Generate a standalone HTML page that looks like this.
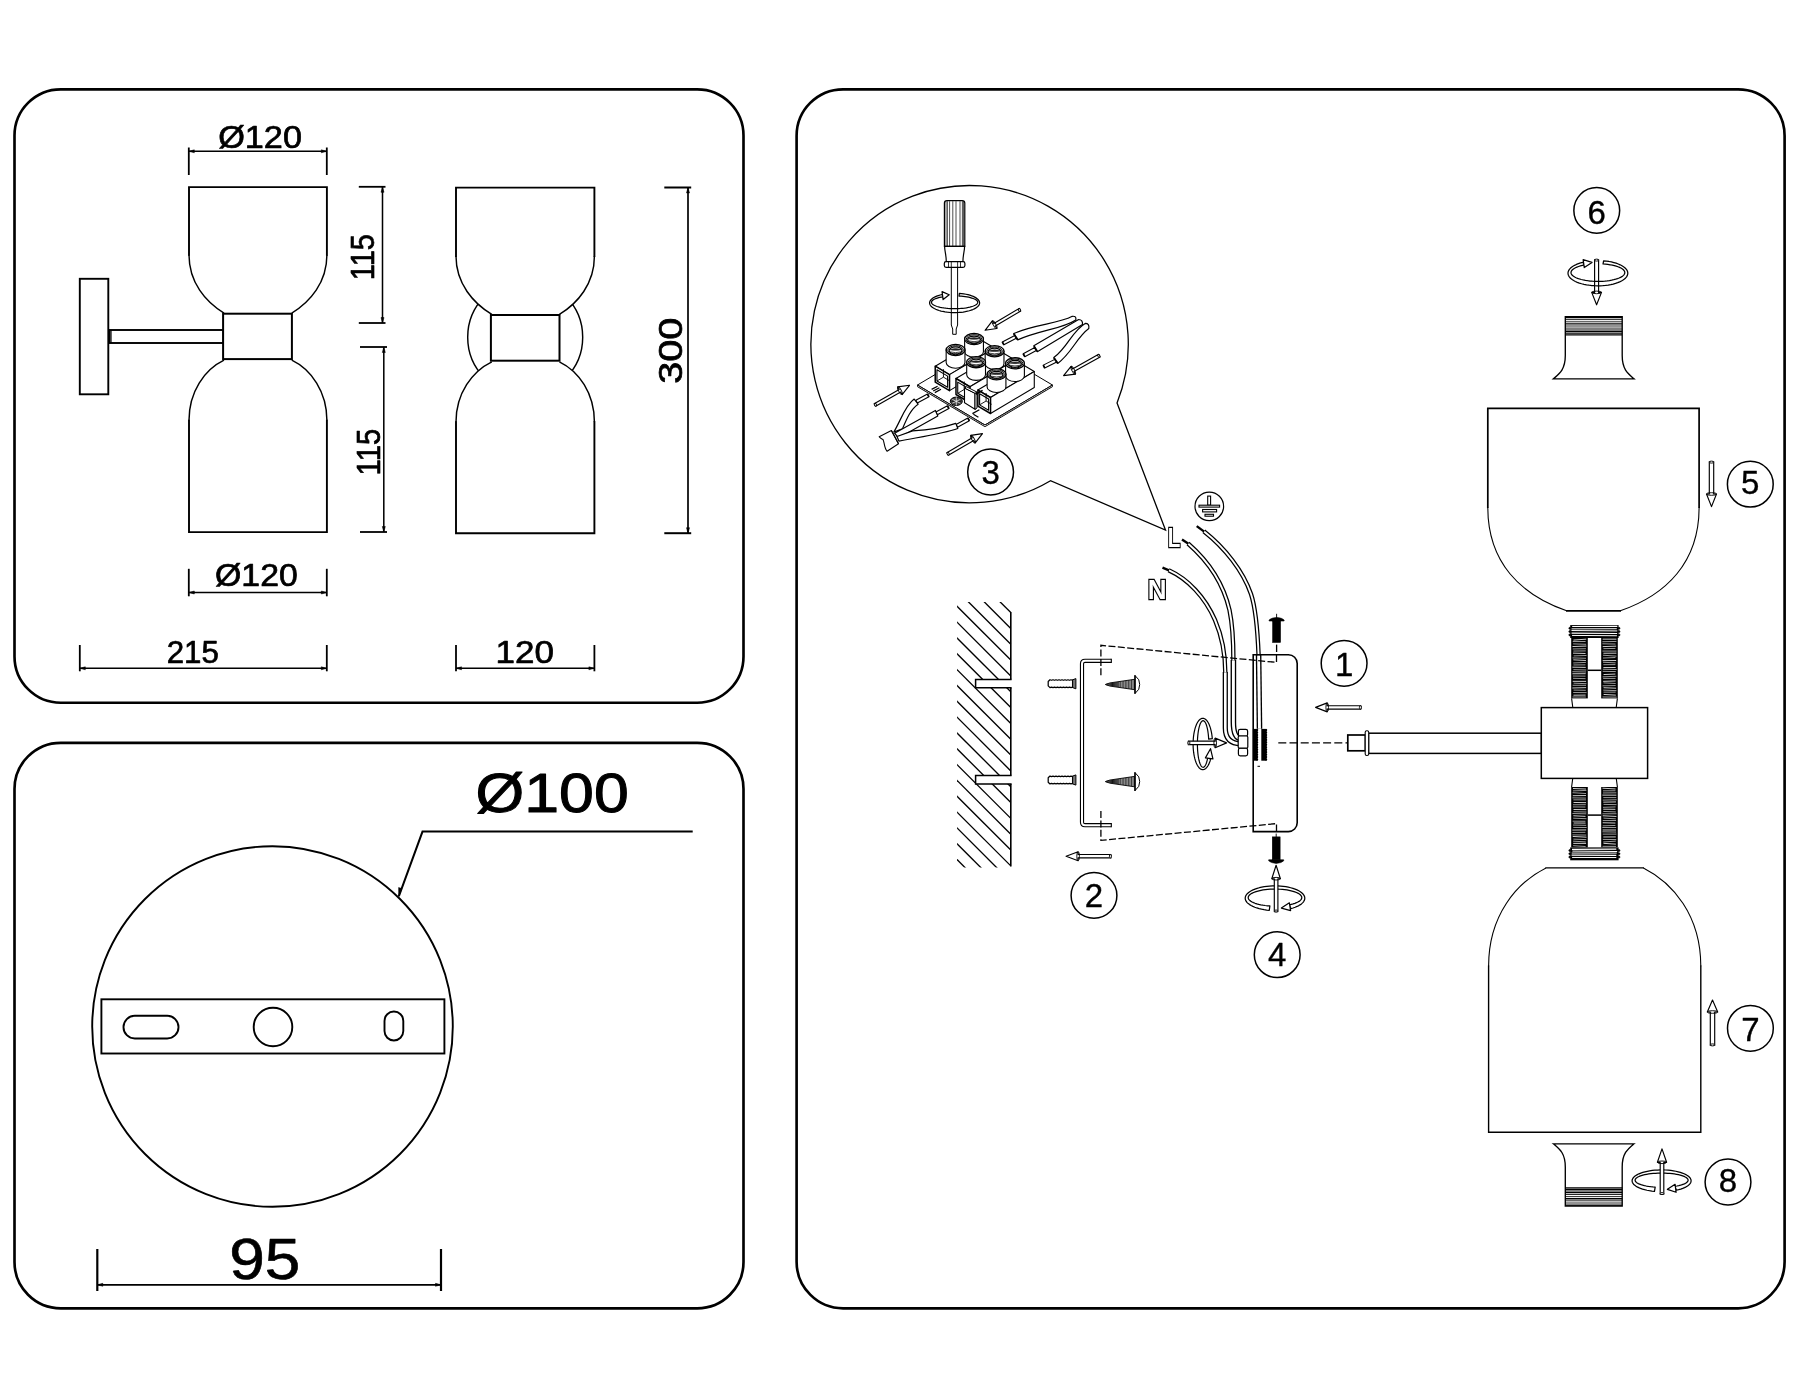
<!DOCTYPE html>
<html><head><meta charset="utf-8"><title>Wall lamp assembly diagram</title>
<style>
html,body{margin:0;padding:0;background:#fff;}
svg{display:block;will-change:transform;}
text{font-family:"Liberation Sans",sans-serif;fill:#000;}
</style></head><body>
<svg width="1800" height="1400" viewBox="0 0 1800 1400">
<rect x="0" y="0" width="1800" height="1400" fill="#fff"/>
<rect x="14.5" y="89.3" width="729" height="613.4" rx="46.3" fill="none" stroke="#000" stroke-width="2.65" />
<rect x="14.5" y="742.8" width="729" height="565.5" rx="46.3" fill="none" stroke="#000" stroke-width="2.65" />
<rect x="796.6" y="89.3" width="988" height="1219" rx="46.5" fill="none" stroke="#000" stroke-width="2.65" />
<rect x="79.8" y="278.8" width="28.5" height="115.5" rx="0" fill="#fff" stroke="#000" stroke-width="1.9" />
<rect x="109.5" y="330" width="114" height="13" rx="0" fill="#fff" stroke="#000" stroke-width="1.9" />
<line x1="111" y1="330" x2="111" y2="343" stroke="#000" stroke-width="1.2" />
<path d="M189,187.1 H326.9 V255.05 C326.9,282.45 310.1,302 291.8,313.1 H224 C205.7,302 189,282.45 189,255.05 Z" fill="#fff" stroke="none" stroke-width="0" />
<path d="M189,532.1 H326.9 V420.3 C326.9,391.8 311.3,369.6 291.8,360.2 H224 C204.5,369.6 189,391.8 189,420.3 Z" fill="#fff" stroke="none" stroke-width="0" />
<path d="M189,255.05 C189,282.45 205.7,302 224,313.1 M326.9,255.05 C326.9,282.45 310.1,302 291.8,313.1 M189,420.3 C189,391.8 204.5,369.6 224,360.2 M326.9,420.3 C326.9,391.8 311.3,369.6 291.8,360.2" fill="none" stroke="#000" stroke-width="1.45" />
<path d="M189,255.65 V187.1 H326.9 V255.65 M189,419.7 V532.1 H326.9 V419.7" fill="none" stroke="#000" stroke-width="1.9" stroke-linejoin="miter"/>
<rect x="223.1" y="313.7" width="68.8" height="45.4" rx="0" fill="#fff" stroke="#000" stroke-width="2.0" />
<circle cx="525.2" cy="337.2" r="57.5" fill="none" stroke="#000" stroke-width="1.45"/>
<path d="M456,187.6 H594.4 V256.35 C594.4,283.75 577.7,303.3 559.4,314.4 H491.8 C473.5,303.3 456,283.75 456,256.35 Z" fill="#fff" stroke="none" stroke-width="0" />
<path d="M456,533.2 H594.4 V421.9 C594.4,393.4 578.9,371.2 559.4,361.8 H491.8 C472.3,371.2 456,393.4 456,421.9 Z" fill="#fff" stroke="none" stroke-width="0" />
<path d="M456,256.35 C456,283.75 473.5,303.3 491.8,314.4 M594.4,256.35 C594.4,283.75 577.7,303.3 559.4,314.4 M456,421.9 C456,393.4 472.3,371.2 491.8,361.8 M594.4,421.9 C594.4,393.4 578.9,371.2 559.4,361.8" fill="none" stroke="#000" stroke-width="1.45" />
<path d="M456,256.95 V187.6 H594.4 V256.95 M456,421.3 V533.2 H594.4 V421.3" fill="none" stroke="#000" stroke-width="1.9" stroke-linejoin="miter"/>
<rect x="490.9" y="315" width="68.6" height="45.7" rx="0" fill="#fff" stroke="#000" stroke-width="2.0" />
<line x1="188.8" y1="147.5" x2="188.8" y2="175" stroke="#000" stroke-width="1.8" />
<line x1="326.8" y1="147.5" x2="326.8" y2="175" stroke="#000" stroke-width="1.8" />
<line x1="188.8" y1="151.3" x2="326.8" y2="151.3" stroke="#000" stroke-width="1.4400000000000002" />
<path d="M188.8,151.3 L194.3,149.8 L194.3,152.8 Z" fill="#000" stroke="#000" stroke-width="0.5" />
<path d="M326.8,151.3 L321.3,149.8 L321.3,152.8 Z" fill="#000" stroke="#000" stroke-width="0.5" />
<text x="218.15" y="147.5" font-size="32.2" textLength="83.84" lengthAdjust="spacingAndGlyphs" stroke="#000" stroke-width="0.7" stroke-linejoin="round">Ø120</text>
<line x1="188.8" y1="568.8" x2="188.8" y2="596.3" stroke="#000" stroke-width="1.8" />
<line x1="326.8" y1="568.8" x2="326.8" y2="596.3" stroke="#000" stroke-width="1.8" />
<line x1="188.8" y1="592.5" x2="326.8" y2="592.5" stroke="#000" stroke-width="1.4400000000000002" />
<path d="M188.8,592.5 L194.3,591 L194.3,594 Z" fill="#000" stroke="#000" stroke-width="0.5" />
<path d="M326.8,592.5 L321.3,591 L321.3,594 Z" fill="#000" stroke="#000" stroke-width="0.5" />
<text x="215.07" y="585.5" font-size="32.2" textLength="82.71" lengthAdjust="spacingAndGlyphs" stroke="#000" stroke-width="0.7" stroke-linejoin="round">Ø120</text>
<line x1="79.8" y1="645" x2="79.8" y2="671.3" stroke="#000" stroke-width="1.8" />
<line x1="326.8" y1="645" x2="326.8" y2="671.3" stroke="#000" stroke-width="1.8" />
<line x1="79.8" y1="668.3" x2="326.8" y2="668.3" stroke="#000" stroke-width="1.4400000000000002" />
<path d="M79.8,668.3 L85.3,666.8 L85.3,669.8 Z" fill="#000" stroke="#000" stroke-width="0.5" />
<path d="M326.8,668.3 L321.3,666.8 L321.3,669.8 Z" fill="#000" stroke="#000" stroke-width="0.5" />
<text x="166.68" y="662.6" font-size="32.2" textLength="52.14" lengthAdjust="spacingAndGlyphs" stroke="#000" stroke-width="0.7" stroke-linejoin="round">215</text>
<line x1="456" y1="645" x2="456" y2="671.3" stroke="#000" stroke-width="1.8" />
<line x1="594.4" y1="645" x2="594.4" y2="671.3" stroke="#000" stroke-width="1.8" />
<line x1="456" y1="668.3" x2="594.4" y2="668.3" stroke="#000" stroke-width="1.4400000000000002" />
<path d="M456,668.3 L461.5,666.8 L461.5,669.8 Z" fill="#000" stroke="#000" stroke-width="0.5" />
<path d="M594.4,668.3 L588.9,666.8 L588.9,669.8 Z" fill="#000" stroke="#000" stroke-width="0.5" />
<text x="495.64" y="662.6" font-size="32.2" textLength="58.43" lengthAdjust="spacingAndGlyphs" stroke="#000" stroke-width="0.7" stroke-linejoin="round">120</text>
<line x1="358.8" y1="186.8" x2="385.5" y2="186.8" stroke="#000" stroke-width="1.8" />
<line x1="358.8" y1="323" x2="385.5" y2="323" stroke="#000" stroke-width="1.8" />
<line x1="382.5" y1="186.8" x2="382.5" y2="323" stroke="#000" stroke-width="1.53" />
<path d="M382.5,186.8 L381,192.3 L384,192.3 Z" fill="#000" stroke="#000" stroke-width="0.5" />
<path d="M382.5,323 L381,317.5 L384,317.5 Z" fill="#000" stroke="#000" stroke-width="0.5" />
<text x="373.7" y="280.14" font-size="33" textLength="46.08" lengthAdjust="spacingAndGlyphs" transform="rotate(-90 373.7 280.14)" stroke="#000" stroke-width="0.7" stroke-linejoin="round">115</text>
<line x1="360" y1="347" x2="387" y2="347" stroke="#000" stroke-width="1.8" />
<line x1="360" y1="532" x2="387" y2="532" stroke="#000" stroke-width="1.8" />
<line x1="383.8" y1="347" x2="383.8" y2="532" stroke="#000" stroke-width="1.53" />
<path d="M383.8,347 L382.3,352.5 L385.3,352.5 Z" fill="#000" stroke="#000" stroke-width="0.5" />
<path d="M383.8,532 L382.3,526.5 L385.3,526.5 Z" fill="#000" stroke="#000" stroke-width="0.5" />
<text x="379.7" y="475.37" font-size="33" textLength="46.73" lengthAdjust="spacingAndGlyphs" transform="rotate(-90 379.7 475.37)" stroke="#000" stroke-width="0.7" stroke-linejoin="round">115</text>
<line x1="664.3" y1="187.5" x2="691.2" y2="187.5" stroke="#000" stroke-width="2.0" />
<line x1="664.3" y1="533.2" x2="691.2" y2="533.2" stroke="#000" stroke-width="2.0" />
<line x1="688" y1="187.5" x2="688" y2="533.2" stroke="#000" stroke-width="1.7" />
<path d="M688,187.5 L686.5,193 L689.5,193 Z" fill="#000" stroke="#000" stroke-width="0.5" />
<path d="M688,533.2 L686.5,527.7 L689.5,527.7 Z" fill="#000" stroke="#000" stroke-width="0.5" />
<text x="682.3" y="383.65" font-size="33" textLength="66.02" lengthAdjust="spacingAndGlyphs" transform="rotate(-90 682.3 383.65)" stroke="#000" stroke-width="0.7" stroke-linejoin="round">300</text>
<circle cx="272.5" cy="1026.5" r="180.3" fill="none" stroke="#000" stroke-width="1.9"/>
<rect x="101.4" y="999.3" width="343" height="54.2" rx="0" fill="#fff" stroke="#000" stroke-width="1.9" />
<rect x="123.5" y="1015.8" width="55" height="22.7" rx="11.3" fill="none" stroke="#000" stroke-width="1.9" />
<circle cx="273" cy="1027" r="19.3" fill="none" stroke="#000" stroke-width="1.9"/>
<rect x="384.5" y="1011.5" width="18.8" height="29" rx="9.4" fill="none" stroke="#000" stroke-width="1.9" />
<path d="M692.7,831.6 L422.5,831.6 L398.9,896.2" fill="none" stroke="#000" stroke-width="2.0" />
<path d="M398.7,896.8 L398.6,887.5 L401.8,888.6 Z" fill="#000" stroke="#000" stroke-width="0.5" />
<text x="475.58" y="812.3" font-size="56.4" textLength="153.16" lengthAdjust="spacingAndGlyphs" stroke="#000" stroke-width="1.0" stroke-linejoin="round">Ø100</text>
<line x1="97.3" y1="1249" x2="97.3" y2="1291" stroke="#000" stroke-width="2.2" />
<line x1="441" y1="1249" x2="441" y2="1291" stroke="#000" stroke-width="2.2" />
<line x1="97.3" y1="1284.8" x2="441" y2="1284.8" stroke="#000" stroke-width="1.7600000000000002" />
<path d="M97.3,1284.8 L102.8,1283.3 L102.8,1286.3 Z" fill="#000" stroke="#000" stroke-width="0.5" />
<path d="M441,1284.8 L435.5,1283.3 L435.5,1286.3 Z" fill="#000" stroke="#000" stroke-width="0.5" />
<text x="229.15" y="1279.2" font-size="57.8" textLength="71.16" lengthAdjust="spacingAndGlyphs" stroke="#000" stroke-width="0.6" stroke-linejoin="round">95</text>
<path d="M1117.04,402.91 A158.7,158.7 0 1 0 1050.51,480.73 L1165.5,530.1 Z" fill="#fff" stroke="#000" stroke-width="1.3" stroke-linejoin="miter"/>
<path d="M951.3,267 V325 L952.7,329 V334.3 H956.2 V329 L957.6,325 V267 Z" fill="#fff" stroke="#000" stroke-width="1.0" />
<path d="M944.4,203 Q944.4,200.6 947,200.6 H962.2 Q964.8,200.6 964.8,203 V246.3 H944.4 Z" fill="#fff" stroke="#000" stroke-width="1.2" />
<line x1="946" y1="201.2" x2="946" y2="246.3" stroke="#000" stroke-width="0.7" />
<line x1="947.4" y1="201.2" x2="947.4" y2="246.3" stroke="#000" stroke-width="0.7" />
<line x1="949.6" y1="201.2" x2="949.6" y2="246.3" stroke="#000" stroke-width="0.7" />
<line x1="952.8" y1="201.2" x2="952.8" y2="246.3" stroke="#000" stroke-width="0.7" />
<line x1="956" y1="201.2" x2="956" y2="246.3" stroke="#000" stroke-width="0.7" />
<line x1="960" y1="201.2" x2="960" y2="246.3" stroke="#000" stroke-width="0.7" />
<line x1="962.4" y1="201.2" x2="962.4" y2="246.3" stroke="#000" stroke-width="0.7" />
<line x1="963.6" y1="201.2" x2="963.6" y2="246.3" stroke="#000" stroke-width="0.7" />
<path d="M944.6,246.3 H964.6 C964.6,251 962.9,255 962.9,261.7 H946.3 C946.3,255 944.6,251 944.6,246.3 Z" fill="#fff" stroke="#000" stroke-width="1.2" />
<rect x="944.3" y="261.7" width="20.6" height="5.7" rx="1.8" fill="#fff" stroke="#000" stroke-width="1.2" />
<line x1="948.5" y1="261.7" x2="948.5" y2="267.4" stroke="#000" stroke-width="0.8" />
<line x1="951.3" y1="261.7" x2="951.3" y2="267.4" stroke="#000" stroke-width="0.8" />
<line x1="957.6" y1="261.7" x2="957.6" y2="267.4" stroke="#000" stroke-width="0.8" />
<line x1="960.5" y1="261.7" x2="960.5" y2="267.4" stroke="#000" stroke-width="0.8" />
<path d="M959.37,293.38 L961.62,293.59 L963.82,293.88 L965.93,294.25 L967.95,294.7 L969.85,295.21 L971.62,295.79 L973.24,296.44 L974.71,297.13 L976,297.88 L977.1,298.67 L978.01,299.5 L978.73,300.36 L979.23,301.24 L979.52,302.13 L979.6,303.03 L979.46,303.93 L979.11,304.81 L978.55,305.69 L977.78,306.54 L976.81,307.35 L975.65,308.13 L974.31,308.87 L972.8,309.55 L971.13,310.18 L969.32,310.74 L967.39,311.23 L965.34,311.66 L963.21,312.01 L960.99,312.28 L958.73,312.47 L956.42,312.57 L954.11,312.6 L951.79,312.54 L949.5,312.4 L947.26,312.17 L945.07,311.87 L942.97,311.49 L940.97,311.03 L939.09,310.51 L937.34,309.92 L935.74,309.27 L934.3,308.56 L933.03,307.81 L931.95,307.01 L931.07,306.18 L930.39,305.32 L929.92,304.44 L929.65,303.54 L929.61,302.64 L929.78,301.75 L930.16,300.86 L930.75,299.99 L931.55,299.14 L932.55,298.33 L933.73,297.56 L935.1,296.83 L936.63,296.16 L938.32,295.54 L940.15,294.99 L942.1,294.5 L943.05,296.76 L941.25,297.08 L939.56,297.44 L938,297.85 L936.58,298.3 L935.32,298.78 L934.22,299.29 L933.3,299.82 L932.57,300.38 L932.02,300.95 L931.66,301.54 L931.51,302.13 L931.55,302.72 L931.79,303.31 L932.23,303.9 L932.86,304.46 L933.68,305.01 L934.67,305.54 L935.84,306.03 L937.17,306.5 L938.65,306.93 L940.27,307.32 L942.01,307.67 L943.86,307.97 L945.8,308.22 L947.81,308.42 L949.89,308.57 L952.01,308.66 L954.14,308.7 L956.29,308.68 L958.41,308.61 L960.51,308.49 L962.55,308.31 L964.53,308.08 L966.42,307.8 L968.21,307.47 L969.88,307.1 L971.42,306.69 L972.81,306.24 L974.05,305.75 L975.12,305.24 L976.02,304.7 L976.73,304.14 L977.25,303.56 L977.57,302.98 L977.7,302.38 L977.63,301.79 L977.36,301.2 L976.89,300.62 L976.23,300.06 L975.39,299.51 L974.37,298.99 L973.18,298.5 L971.82,298.04 L970.32,297.61 L968.69,297.23 L966.93,296.89 L965.07,296.6 L963.12,296.35 L961.09,296.16 L959.01,296.02 Z" fill="none" stroke="#000" stroke-width="1.25" stroke-linejoin="round"/>
<path d="M943.1,299.59 L949.19,294.76 L942.05,291.66 Z" fill="#fff" stroke="#000" stroke-width="1.25" stroke-linejoin="round"/>
<path d="M917.5,385 L984.97,425.01 L1052.44,385 L984.97,344.99 Z" fill="#fff" stroke="#000" stroke-width="1.0" stroke-linejoin="round"/>
<path d="M917.5,385 L917.5,386.7 L984.97,426.71 L1052.44,386.7 L1052.44,385 L984.97,425.01 Z" fill="#fff" stroke="#000" stroke-width="0.9" stroke-linejoin="round"/>
<line x1="919.23" y1="386.03" x2="919.23" y2="387.73" stroke="#000" stroke-width="0.5" />
<line x1="986.7" y1="423.99" x2="986.7" y2="425.69" stroke="#000" stroke-width="0.5" />
<line x1="920.96" y1="387.05" x2="920.96" y2="388.75" stroke="#000" stroke-width="0.5" />
<line x1="988.43" y1="422.96" x2="988.43" y2="424.66" stroke="#000" stroke-width="0.5" />
<line x1="922.69" y1="388.08" x2="922.69" y2="389.78" stroke="#000" stroke-width="0.5" />
<line x1="990.16" y1="421.94" x2="990.16" y2="423.64" stroke="#000" stroke-width="0.5" />
<line x1="924.42" y1="389.1" x2="924.42" y2="390.8" stroke="#000" stroke-width="0.5" />
<line x1="991.89" y1="420.91" x2="991.89" y2="422.61" stroke="#000" stroke-width="0.5" />
<line x1="926.15" y1="390.13" x2="926.15" y2="391.83" stroke="#000" stroke-width="0.5" />
<line x1="993.62" y1="419.88" x2="993.62" y2="421.58" stroke="#000" stroke-width="0.5" />
<line x1="927.88" y1="391.16" x2="927.88" y2="392.86" stroke="#000" stroke-width="0.5" />
<line x1="995.35" y1="418.86" x2="995.35" y2="420.56" stroke="#000" stroke-width="0.5" />
<line x1="929.61" y1="392.18" x2="929.61" y2="393.88" stroke="#000" stroke-width="0.5" />
<line x1="997.08" y1="417.83" x2="997.08" y2="419.53" stroke="#000" stroke-width="0.5" />
<line x1="931.34" y1="393.21" x2="931.34" y2="394.91" stroke="#000" stroke-width="0.5" />
<line x1="998.81" y1="416.81" x2="998.81" y2="418.51" stroke="#000" stroke-width="0.5" />
<line x1="933.07" y1="394.23" x2="933.07" y2="395.93" stroke="#000" stroke-width="0.5" />
<line x1="1000.54" y1="415.78" x2="1000.54" y2="417.48" stroke="#000" stroke-width="0.5" />
<line x1="934.8" y1="395.26" x2="934.8" y2="396.96" stroke="#000" stroke-width="0.5" />
<line x1="1002.27" y1="414.75" x2="1002.27" y2="416.45" stroke="#000" stroke-width="0.5" />
<line x1="936.53" y1="396.29" x2="936.53" y2="397.99" stroke="#000" stroke-width="0.5" />
<line x1="1004" y1="413.73" x2="1004" y2="415.43" stroke="#000" stroke-width="0.5" />
<line x1="938.26" y1="397.31" x2="938.26" y2="399.01" stroke="#000" stroke-width="0.5" />
<line x1="1005.73" y1="412.7" x2="1005.73" y2="414.4" stroke="#000" stroke-width="0.5" />
<line x1="939.99" y1="398.34" x2="939.99" y2="400.04" stroke="#000" stroke-width="0.5" />
<line x1="1007.46" y1="411.68" x2="1007.46" y2="413.38" stroke="#000" stroke-width="0.5" />
<line x1="941.72" y1="399.36" x2="941.72" y2="401.06" stroke="#000" stroke-width="0.5" />
<line x1="1009.19" y1="410.65" x2="1009.19" y2="412.35" stroke="#000" stroke-width="0.5" />
<line x1="943.45" y1="400.39" x2="943.45" y2="402.09" stroke="#000" stroke-width="0.5" />
<line x1="1010.92" y1="409.62" x2="1010.92" y2="411.32" stroke="#000" stroke-width="0.5" />
<line x1="945.18" y1="401.42" x2="945.18" y2="403.12" stroke="#000" stroke-width="0.5" />
<line x1="1012.65" y1="408.6" x2="1012.65" y2="410.3" stroke="#000" stroke-width="0.5" />
<line x1="946.91" y1="402.44" x2="946.91" y2="404.14" stroke="#000" stroke-width="0.5" />
<line x1="1014.38" y1="407.57" x2="1014.38" y2="409.27" stroke="#000" stroke-width="0.5" />
<line x1="948.64" y1="403.47" x2="948.64" y2="405.17" stroke="#000" stroke-width="0.5" />
<line x1="1016.11" y1="406.55" x2="1016.11" y2="408.25" stroke="#000" stroke-width="0.5" />
<line x1="950.37" y1="404.49" x2="950.37" y2="406.19" stroke="#000" stroke-width="0.5" />
<line x1="1017.84" y1="405.52" x2="1017.84" y2="407.22" stroke="#000" stroke-width="0.5" />
<line x1="952.1" y1="405.52" x2="952.1" y2="407.22" stroke="#000" stroke-width="0.5" />
<line x1="1019.57" y1="404.49" x2="1019.57" y2="406.19" stroke="#000" stroke-width="0.5" />
<line x1="953.83" y1="406.55" x2="953.83" y2="408.25" stroke="#000" stroke-width="0.5" />
<line x1="1021.3" y1="403.47" x2="1021.3" y2="405.17" stroke="#000" stroke-width="0.5" />
<line x1="955.56" y1="407.57" x2="955.56" y2="409.27" stroke="#000" stroke-width="0.5" />
<line x1="1023.03" y1="402.44" x2="1023.03" y2="404.14" stroke="#000" stroke-width="0.5" />
<line x1="957.29" y1="408.6" x2="957.29" y2="410.3" stroke="#000" stroke-width="0.5" />
<line x1="1024.76" y1="401.42" x2="1024.76" y2="403.12" stroke="#000" stroke-width="0.5" />
<line x1="959.02" y1="409.62" x2="959.02" y2="411.32" stroke="#000" stroke-width="0.5" />
<line x1="1026.49" y1="400.39" x2="1026.49" y2="402.09" stroke="#000" stroke-width="0.5" />
<line x1="960.75" y1="410.65" x2="960.75" y2="412.35" stroke="#000" stroke-width="0.5" />
<line x1="1028.22" y1="399.36" x2="1028.22" y2="401.06" stroke="#000" stroke-width="0.5" />
<line x1="962.48" y1="411.68" x2="962.48" y2="413.38" stroke="#000" stroke-width="0.5" />
<line x1="1029.95" y1="398.34" x2="1029.95" y2="400.04" stroke="#000" stroke-width="0.5" />
<line x1="964.21" y1="412.7" x2="964.21" y2="414.4" stroke="#000" stroke-width="0.5" />
<line x1="1031.68" y1="397.31" x2="1031.68" y2="399.01" stroke="#000" stroke-width="0.5" />
<line x1="965.94" y1="413.73" x2="965.94" y2="415.43" stroke="#000" stroke-width="0.5" />
<line x1="1033.41" y1="396.29" x2="1033.41" y2="397.99" stroke="#000" stroke-width="0.5" />
<line x1="967.67" y1="414.75" x2="967.67" y2="416.45" stroke="#000" stroke-width="0.5" />
<line x1="1035.14" y1="395.26" x2="1035.14" y2="396.96" stroke="#000" stroke-width="0.5" />
<line x1="969.4" y1="415.78" x2="969.4" y2="417.48" stroke="#000" stroke-width="0.5" />
<line x1="1036.87" y1="394.23" x2="1036.87" y2="395.93" stroke="#000" stroke-width="0.5" />
<line x1="971.13" y1="416.81" x2="971.13" y2="418.51" stroke="#000" stroke-width="0.5" />
<line x1="1038.6" y1="393.21" x2="1038.6" y2="394.91" stroke="#000" stroke-width="0.5" />
<line x1="972.86" y1="417.83" x2="972.86" y2="419.53" stroke="#000" stroke-width="0.5" />
<line x1="1040.33" y1="392.18" x2="1040.33" y2="393.88" stroke="#000" stroke-width="0.5" />
<line x1="974.59" y1="418.86" x2="974.59" y2="420.56" stroke="#000" stroke-width="0.5" />
<line x1="1042.06" y1="391.16" x2="1042.06" y2="392.86" stroke="#000" stroke-width="0.5" />
<line x1="976.32" y1="419.88" x2="976.32" y2="421.58" stroke="#000" stroke-width="0.5" />
<line x1="1043.79" y1="390.13" x2="1043.79" y2="391.83" stroke="#000" stroke-width="0.5" />
<line x1="978.05" y1="420.91" x2="978.05" y2="422.61" stroke="#000" stroke-width="0.5" />
<line x1="1045.52" y1="389.1" x2="1045.52" y2="390.8" stroke="#000" stroke-width="0.5" />
<line x1="979.78" y1="421.94" x2="979.78" y2="423.64" stroke="#000" stroke-width="0.5" />
<line x1="1047.25" y1="388.08" x2="1047.25" y2="389.78" stroke="#000" stroke-width="0.5" />
<line x1="981.51" y1="422.96" x2="981.51" y2="424.66" stroke="#000" stroke-width="0.5" />
<line x1="1048.98" y1="387.05" x2="1048.98" y2="388.75" stroke="#000" stroke-width="0.5" />
<line x1="983.24" y1="423.99" x2="983.24" y2="425.69" stroke="#000" stroke-width="0.5" />
<line x1="1050.71" y1="386.03" x2="1050.71" y2="387.73" stroke="#000" stroke-width="0.5" />
<path d="M935.23,366.18 L949.5,374.64 L994.49,347.97 L980.21,339.5 Z" fill="#fff" stroke="#000" stroke-width="1.1" stroke-linejoin="round"/>
<path d="M949.5,390.64 L994.49,363.97 L994.49,347.97 L949.5,374.64 Z" fill="#fff" stroke="#000" stroke-width="1.1" stroke-linejoin="round"/>
<path d="M935.23,382.18 L949.5,390.64 L949.5,374.64 L935.23,366.18 Z" fill="#fff" stroke="#000" stroke-width="1.5" stroke-linejoin="round"/>
<path d="M936.96,381 L947.6,387.31 L947.6,376.11 L936.96,369.8 Z" fill="#fff" stroke="#000" stroke-width="1.1" stroke-linejoin="round"/>
<line x1="936.96" y1="381" x2="943.45" y2="377.16" stroke="#000" stroke-width="0.9" />
<line x1="943.45" y1="377.16" x2="943.45" y2="369.16" stroke="#000" stroke-width="0.9" />
<line x1="943.45" y1="377.16" x2="950.05" y2="381.07" stroke="#000" stroke-width="0.9" />
<path d="M964.63,339.03 V351.63 A9.4,5.6 0 0 0 983.43,351.63 V339.03 Z" fill="#fff" stroke="#000" stroke-width="1.1" />
<ellipse cx="974.03" cy="339.03" rx="9.4" ry="5.6" fill="#fff" stroke="#000" stroke-width="1.35" />
<ellipse cx="974.03" cy="339.23" rx="7.8" ry="4.5" fill="#fff" stroke="#000" stroke-width="1.0" />
<ellipse cx="974.03" cy="339.53" rx="6.4" ry="3.5" fill="#fff" stroke="#000" stroke-width="1.25" />
<path d="M968.23,338.73 Q974.03,336.43 979.83,338.73 Q974.03,339.93 968.23,338.73 Z" fill="#222" stroke="#222" stroke-width="0.6"/>
<path d="M968.83,340.93 Q974.03,342.43 979.23,340.93" fill="none" stroke="#333" stroke-width="0.9"/>
<path d="M946.16,349.99 V362.59 A9.4,5.6 0 0 0 964.96,362.59 V349.99 Z" fill="#fff" stroke="#000" stroke-width="1.1" />
<ellipse cx="955.56" cy="349.99" rx="9.4" ry="5.6" fill="#fff" stroke="#000" stroke-width="1.35" />
<ellipse cx="955.56" cy="350.19" rx="7.8" ry="4.5" fill="#fff" stroke="#000" stroke-width="1.0" />
<ellipse cx="955.56" cy="350.49" rx="6.4" ry="3.5" fill="#fff" stroke="#000" stroke-width="1.25" />
<path d="M949.76,349.69 Q955.56,347.39 961.36,349.69 Q955.56,350.89 949.76,349.69 Z" fill="#222" stroke="#222" stroke-width="0.6"/>
<path d="M950.36,351.89 Q955.56,353.39 960.76,351.89" fill="none" stroke="#333" stroke-width="0.9"/>
<path d="M955.99,378.49 L969.92,386.75 L1014.9,360.07 L1000.97,351.81 Z" fill="#fff" stroke="#000" stroke-width="1.1" stroke-linejoin="round"/>
<path d="M969.92,402.75 L1014.9,376.07 L1014.9,360.07 L969.92,386.75 Z" fill="#fff" stroke="#000" stroke-width="1.1" stroke-linejoin="round"/>
<path d="M955.99,394.49 L969.92,402.75 L969.92,386.75 L955.99,378.49 Z" fill="#fff" stroke="#000" stroke-width="1.5" stroke-linejoin="round"/>
<path d="M957.72,393.32 L968.02,399.42 L968.02,388.22 L957.72,382.12 Z" fill="#fff" stroke="#000" stroke-width="1.1" stroke-linejoin="round"/>
<line x1="957.72" y1="393.32" x2="964.21" y2="389.47" stroke="#000" stroke-width="0.9" />
<line x1="964.21" y1="389.47" x2="964.21" y2="381.47" stroke="#000" stroke-width="0.9" />
<line x1="964.21" y1="389.47" x2="970.59" y2="393.25" stroke="#000" stroke-width="0.9" />
<path d="M985.17,351.22 V363.82 A9.4,5.6 0 0 0 1003.97,363.82 V351.22 Z" fill="#fff" stroke="#000" stroke-width="1.1" />
<ellipse cx="994.57" cy="351.22" rx="9.4" ry="5.6" fill="#fff" stroke="#000" stroke-width="1.35" />
<ellipse cx="994.57" cy="351.42" rx="7.8" ry="4.5" fill="#fff" stroke="#000" stroke-width="1.0" />
<ellipse cx="994.57" cy="351.72" rx="6.4" ry="3.5" fill="#fff" stroke="#000" stroke-width="1.25" />
<path d="M988.77,350.92 Q994.57,348.62 1000.37,350.92 Q994.57,352.12 988.77,350.92 Z" fill="#222" stroke="#222" stroke-width="0.6"/>
<path d="M989.37,353.12 Q994.57,354.62 999.77,353.12" fill="none" stroke="#333" stroke-width="0.9"/>
<path d="M966.7,362.17 V374.77 A9.4,5.6 0 0 0 985.5,374.77 V362.17 Z" fill="#fff" stroke="#000" stroke-width="1.1" />
<ellipse cx="976.1" cy="362.17" rx="9.4" ry="5.6" fill="#fff" stroke="#000" stroke-width="1.35" />
<ellipse cx="976.1" cy="362.37" rx="7.8" ry="4.5" fill="#fff" stroke="#000" stroke-width="1.0" />
<ellipse cx="976.1" cy="362.67" rx="6.4" ry="3.5" fill="#fff" stroke="#000" stroke-width="1.25" />
<path d="M970.3,361.87 Q976.1,359.57 981.9,361.87 Q976.1,363.07 970.3,361.87 Z" fill="#222" stroke="#222" stroke-width="0.6"/>
<path d="M970.9,364.07 Q976.1,365.57 981.3,364.07" fill="none" stroke="#333" stroke-width="0.9"/>
<path d="M977.88,390.03 L990.51,397.52 L1034.28,371.56 L1021.65,364.08 Z" fill="#fff" stroke="#000" stroke-width="1.1" stroke-linejoin="round"/>
<path d="M990.51,413.52 L1034.28,387.56 L1034.28,371.56 L990.51,397.52 Z" fill="#fff" stroke="#000" stroke-width="1.1" stroke-linejoin="round"/>
<path d="M977.88,406.03 L990.51,413.52 L990.51,397.52 L977.88,390.03 Z" fill="#fff" stroke="#000" stroke-width="1.5" stroke-linejoin="round"/>
<path d="M979.61,404.86 L988.6,410.19 L988.6,398.99 L979.61,393.66 Z" fill="#fff" stroke="#000" stroke-width="1.1" stroke-linejoin="round"/>
<line x1="979.61" y1="404.86" x2="986.09" y2="401.01" stroke="#000" stroke-width="0.9" />
<line x1="986.09" y1="401.01" x2="986.09" y2="393.01" stroke="#000" stroke-width="0.9" />
<line x1="986.09" y1="401.01" x2="991.67" y2="404.32" stroke="#000" stroke-width="0.9" />
<path d="M1005.59,363.33 V375.93 A9.4,5.6 0 0 0 1024.39,375.93 V363.33 Z" fill="#fff" stroke="#000" stroke-width="1.1" />
<ellipse cx="1014.99" cy="363.33" rx="9.4" ry="5.6" fill="#fff" stroke="#000" stroke-width="1.35" />
<ellipse cx="1014.99" cy="363.53" rx="7.8" ry="4.5" fill="#fff" stroke="#000" stroke-width="1.0" />
<ellipse cx="1014.99" cy="363.83" rx="6.4" ry="3.5" fill="#fff" stroke="#000" stroke-width="1.25" />
<path d="M1009.19,363.03 Q1014.99,360.73 1020.79,363.03 Q1014.99,364.23 1009.19,363.03 Z" fill="#222" stroke="#222" stroke-width="0.6"/>
<path d="M1009.79,365.23 Q1014.99,366.73 1020.19,365.23" fill="none" stroke="#333" stroke-width="0.9"/>
<path d="M987.12,374.28 V386.88 A9.4,5.6 0 0 0 1005.92,386.88 V374.28 Z" fill="#fff" stroke="#000" stroke-width="1.1" />
<ellipse cx="996.52" cy="374.28" rx="9.4" ry="5.6" fill="#fff" stroke="#000" stroke-width="1.35" />
<ellipse cx="996.52" cy="374.48" rx="7.8" ry="4.5" fill="#fff" stroke="#000" stroke-width="1.0" />
<ellipse cx="996.52" cy="374.78" rx="6.4" ry="3.5" fill="#fff" stroke="#000" stroke-width="1.25" />
<path d="M990.72,373.98 Q996.52,371.68 1002.32,373.98 Q996.52,375.18 990.72,373.98 Z" fill="#222" stroke="#222" stroke-width="0.6"/>
<path d="M991.32,376.18 Q996.52,377.68 1001.72,376.18" fill="none" stroke="#333" stroke-width="0.9"/>
<path d="M964.5,388 L975,393.3 L975,409.3 L964.5,402.6 Z" fill="#fff" stroke="#000" stroke-width="1.1" />
<path d="M975,393.3 L977,392.1 L977,408 L975,409.3 Z" fill="#fff" stroke="#000" stroke-width="1.0" />
<path d="M964.5,388 L966.6,386.8 L977,392.1 L975,393.3 Z" fill="#fff" stroke="#000" stroke-width="1.0" />
<ellipse cx="956.3" cy="401.3" rx="6" ry="4.2" fill="#444" stroke="#000" stroke-width="1.0" />
<line x1="951.5" y1="401.3" x2="961" y2="401.3" stroke="#000" stroke-width="0.7" stroke="#fff"/>
<path d="M952.3,399.4 L960.3,403.2 M952.3,403.2 L960.3,399.4 M956.3,397.3 V405.4" stroke="#fff" stroke-width="0.7" fill="none"/>
<path d="M931.6,389.4 L937.6,386.2 M933.2,391 L939.4,387.7 M934.8,392.6 L941,389.3" fill="none" stroke="#000" stroke-width="1.3" />
<path d="M972.4,413.6 L979.4,409.8 M973.4,414.3 L978.4,417.2" fill="none" stroke="#000" stroke-width="1.3" />
<path d="M975.8,394.2 L982.6,390.4" fill="none" stroke="#000" stroke-width="1.6" />
<path d="M1003.87,344.86 L1016.77,338.06 L1015.23,335.14 L1002.33,341.94 Z" fill="#fff" stroke="#000" stroke-width="1.1" stroke-linejoin="round"/>
<line x1="1003.87" y1="344.86" x2="1002.33" y2="341.94" stroke="#000" stroke-width="1.7" />
<path d="M1013.7,333.6 C1035,324 1058,324 1072.3,316.3 Q1076.5,315.8 1075.8,319.9 C1062,329 1040,330 1017.7,339.9 Z" fill="#fff" stroke="#000" stroke-width="1.2" stroke-linejoin="round"/>
<line x1="1013.9" y1="334" x2="1017.5" y2="339.6" stroke="#000" stroke-width="1.9" />
<path d="M1024.79,356.65 L1036.79,350.15 L1035.21,347.25 L1023.21,353.75 Z" fill="#fff" stroke="#000" stroke-width="1.1" stroke-linejoin="round"/>
<line x1="1024.79" y1="356.65" x2="1023.21" y2="353.75" stroke="#000" stroke-width="1.7" />
<path d="M1033.8,345.8 L1078.6,319.5 Q1083,319.6 1082.5,324.6 L1037.3,351.7 Z" fill="#fff" stroke="#000" stroke-width="1.2" stroke-linejoin="round"/>
<line x1="1034" y1="346.2" x2="1037.1" y2="351.3" stroke="#000" stroke-width="1.9" />
<path d="M1044.74,368.08 L1056.74,362.08 L1055.26,359.12 L1043.26,365.12 Z" fill="#fff" stroke="#000" stroke-width="1.1" stroke-linejoin="round"/>
<line x1="1044.74" y1="368.08" x2="1043.26" y2="365.12" stroke="#000" stroke-width="1.7" />
<path d="M1053.8,357.6 C1068,347 1072,331 1085.2,323.4 Q1089.6,323.3 1088.8,328.5 C1076,338 1072,353 1057.7,363.4 Z" fill="#fff" stroke="#000" stroke-width="1.2" stroke-linejoin="round"/>
<line x1="1054" y1="358" x2="1057.5" y2="363" stroke="#000" stroke-width="1.9" />
<path d="M879.2,436.8 L891.4,430.5 L898.5,443.8 L887.1,451.3 C884,448 884.5,442 883,439.5 C881.5,438.5 880,438.3 879.2,436.8 Z" fill="#fff" stroke="#000" stroke-width="1.1" stroke-linejoin="round"/>
<path d="M927.47,394.03 L915.87,400.23 L917.33,402.97 L928.93,396.77 Z" fill="#fff" stroke="#000" stroke-width="1.1" stroke-linejoin="round"/>
<line x1="927.47" y1="394.03" x2="928.93" y2="396.77" stroke="#000" stroke-width="1.7" />
<path d="M893.8,432.1 C901,420 905.5,405 914.2,399.1 L918.1,404.2 C911,409 907,418 902.4,428.9 Z" fill="#fff" stroke="#000" stroke-width="1.2" stroke-linejoin="round"/>
<path d="M947.47,405.83 L935.87,412.03 L937.33,414.77 L948.93,408.57 Z" fill="#fff" stroke="#000" stroke-width="1.1" stroke-linejoin="round"/>
<line x1="947.47" y1="405.83" x2="948.93" y2="408.57" stroke="#000" stroke-width="1.7" />
<path d="M894.6,433.2 L935.4,410.5 L937.8,416 L898.5,438 Z" fill="#fff" stroke="#000" stroke-width="1.2" stroke-linejoin="round"/>
<path d="M967.86,418.04 L956.06,424.44 L957.54,427.16 L969.34,420.76 Z" fill="#fff" stroke="#000" stroke-width="1.1" stroke-linejoin="round"/>
<line x1="967.86" y1="418.04" x2="969.34" y2="420.76" stroke="#000" stroke-width="1.7" />
<path d="M898.9,441.1 C923,436.5 944,433.5 957.8,428.5 L955.8,423.4 C944,427.5 930,430 912.6,430.9 L897,436.5 Z" fill="#fff" stroke="#000" stroke-width="1.2" stroke-linejoin="round"/>
<path d="M891.4,430.5 L898.5,443.8" fill="none" stroke="#000" stroke-width="1.1" />
<path d="M1019.24,308.41 L993.81,323.42 L992.34,320.92 L985.1,330.3 L996.81,328.5 L995.34,326 L1020.76,310.99 Z" fill="#fff" stroke="#000" stroke-width="1.15" stroke-linejoin="round"/>
<ellipse cx="994.57" cy="324.71" rx="1.3" ry="4.4" fill="none" stroke="#000" stroke-width="0.92" transform="rotate(149.45 994.57 324.71)"/>
<ellipse cx="1019.48" cy="310" rx="1.0" ry="1.5" fill="#fff" stroke="#000" stroke-width="0.92" transform="rotate(149.45 1019.48 310)"/>
<path d="M1098.67,354.29 L1072.47,368.93 L1071.06,366.39 L1063.6,375.6 L1075.35,374.08 L1073.93,371.54 L1100.13,356.91 Z" fill="#fff" stroke="#000" stroke-width="1.15" stroke-linejoin="round"/>
<ellipse cx="1073.2" cy="370.24" rx="1.3" ry="4.4" fill="none" stroke="#000" stroke-width="0.92" transform="rotate(150.81 1073.2 370.24)"/>
<ellipse cx="1098.88" cy="355.89" rx="1.0" ry="1.5" fill="#fff" stroke="#000" stroke-width="0.92" transform="rotate(150.81 1098.88 355.89)"/>
<path d="M875.64,406.3 L900.68,392.05 L902.12,394.57 L909.5,385.3 L897.76,386.92 L899.2,389.44 L874.16,403.7 Z" fill="#fff" stroke="#000" stroke-width="1.15" stroke-linejoin="round"/>
<ellipse cx="899.94" cy="390.74" rx="1.3" ry="4.4" fill="none" stroke="#000" stroke-width="0.92" transform="rotate(-29.66 899.94 390.74)"/>
<ellipse cx="875.42" cy="404.7" rx="1.0" ry="1.5" fill="#fff" stroke="#000" stroke-width="0.92" transform="rotate(-29.66 875.42 404.7)"/>
<path d="M948.36,455.29 L973.76,440.45 L975.22,442.95 L982.5,433.6 L970.78,435.35 L972.25,437.86 L946.84,452.71 Z" fill="#fff" stroke="#000" stroke-width="1.15" stroke-linejoin="round"/>
<ellipse cx="973" cy="439.15" rx="1.3" ry="4.4" fill="none" stroke="#000" stroke-width="0.92" transform="rotate(-30.31 973 439.15)"/>
<ellipse cx="948.12" cy="453.7" rx="1.0" ry="1.5" fill="#fff" stroke="#000" stroke-width="0.92" transform="rotate(-30.31 948.12 453.7)"/>
<circle cx="990.6" cy="472" r="22.9" fill="#fff" stroke="#000" stroke-width="1.5"/>
<text x="990.6" y="483.81" font-size="33" text-anchor="middle"  stroke="#000" stroke-width="0.35" stroke-linejoin="round">3</text>
<text x="1174" y="547.1" font-size="27.1" font-weight="bold" text-anchor="middle" textLength="12.6" lengthAdjust="spacingAndGlyphs" style="fill:#fff;stroke:#000;stroke-width:2.5px;paint-order:stroke fill;stroke-linejoin:miter">L</text>
<text x="1157.2" y="598.5" font-size="27.6" font-weight="bold" text-anchor="middle" textLength="18.8" lengthAdjust="spacingAndGlyphs" style="fill:#fff;stroke:#000;stroke-width:2.5px;paint-order:stroke fill;stroke-linejoin:miter">N</text>
<circle cx="1209.3" cy="506.4" r="14.3" fill="#fff" stroke="#000" stroke-width="1.2"/>
<rect x="1207.7" y="496.1" width="2.9" height="9.1" rx="0" fill="#fff" stroke="#000" stroke-width="1.1" />
<rect x="1199" y="505.2" width="20.6" height="1.9" rx="0" fill="#fff" stroke="#000" stroke-width="1.1" />
<rect x="1202.6" y="509.5" width="14" height="2.4" rx="0" fill="#fff" stroke="#000" stroke-width="1.1" />
<rect x="1205" y="514.3" width="8.5" height="1.9" rx="0" fill="#fff" stroke="#000" stroke-width="1.1" />
<path d="M1258.6,655 L1259.5,728.8" fill="none" stroke="#000" stroke-width="5.6" stroke-linecap="butt"/>
<path d="M1258.6,655 L1259.5,728.8" fill="none" stroke="#fff" stroke-width="2.9" stroke-linecap="butt"/>
<path d="M1203.8,531.3 C1225,548 1243,571 1251,594 C1255,606 1257.6,630 1258.6,655.5" fill="none" stroke="#000" stroke-width="4.4" stroke-linecap="butt"/>
<path d="M1203.8,531.3 C1225,548 1243,571 1251,594 C1255,606 1257.6,630 1258.6,655.5" fill="none" stroke="#fff" stroke-width="1.9" stroke-linecap="butt"/>
<line x1="1196.7" y1="526.1" x2="1204.2" y2="531.6" stroke="#000" stroke-width="2.4" />
<path d="M1233.4,660 L1233.4,722 Q1233.4,738.4 1241,738.6" fill="none" stroke="#000" stroke-width="5.6" stroke-linecap="butt"/>
<path d="M1233.4,660 L1233.4,722 Q1233.4,738.4 1241,738.6" fill="none" stroke="#fff" stroke-width="2.9" stroke-linecap="butt"/>
<path d="M1188,543.5 C1207,560 1223,582 1229.5,610 C1232,622 1233.4,640 1233.4,660.5" fill="none" stroke="#000" stroke-width="4.4" stroke-linecap="butt"/>
<path d="M1188,543.5 C1207,560 1223,582 1229.5,610 C1232,622 1233.4,640 1233.4,660.5" fill="none" stroke="#fff" stroke-width="1.9" stroke-linecap="butt"/>
<line x1="1182" y1="539.6" x2="1188.4" y2="543.8" stroke="#000" stroke-width="2.4" />
<path d="M1225.3,672 L1225.3,728 Q1225.3,743.6 1241,743.8" fill="none" stroke="#000" stroke-width="5.2" stroke-linecap="butt"/>
<path d="M1225.3,672 L1225.3,728 Q1225.3,743.6 1241,743.8" fill="none" stroke="#fff" stroke-width="2.6" stroke-linecap="butt"/>
<path d="M1168.6,570.2 C1188,579 1205,597 1215,620 C1221,634 1225.3,650 1225.3,672.5" fill="none" stroke="#000" stroke-width="4.4" stroke-linecap="butt"/>
<path d="M1168.6,570.2 C1188,579 1205,597 1215,620 C1221,634 1225.3,650 1225.3,672.5" fill="none" stroke="#fff" stroke-width="1.9" stroke-linecap="butt"/>
<line x1="1162.5" y1="567.6" x2="1169" y2="570.4" stroke="#000" stroke-width="2.4" />
<clipPath id="wallclip"><rect x="957.1" y="602.1" width="54.4" height="265.5"/></clipPath>
<g clip-path="url(#wallclip)">
<line x1="950.8" y1="473.45" x2="1010.8" y2="533.45" stroke="#000" stroke-width="1.35" />
<line x1="950.8" y1="489.28" x2="1010.8" y2="549.28" stroke="#000" stroke-width="1.35" />
<line x1="950.8" y1="505.11" x2="1010.8" y2="565.11" stroke="#000" stroke-width="1.35" />
<line x1="950.8" y1="520.94" x2="1010.8" y2="580.94" stroke="#000" stroke-width="1.35" />
<line x1="950.8" y1="536.77" x2="1010.8" y2="596.77" stroke="#000" stroke-width="1.35" />
<line x1="950.8" y1="552.6" x2="1010.8" y2="612.6" stroke="#000" stroke-width="1.35" />
<line x1="950.8" y1="568.43" x2="1010.8" y2="628.43" stroke="#000" stroke-width="1.35" />
<line x1="950.8" y1="584.26" x2="1010.8" y2="644.26" stroke="#000" stroke-width="1.35" />
<line x1="950.8" y1="600.09" x2="1010.8" y2="660.09" stroke="#000" stroke-width="1.35" />
<line x1="950.8" y1="615.92" x2="1010.8" y2="675.92" stroke="#000" stroke-width="1.35" />
<line x1="950.8" y1="631.75" x2="1010.8" y2="691.75" stroke="#000" stroke-width="1.35" />
<line x1="950.8" y1="647.58" x2="1010.8" y2="707.58" stroke="#000" stroke-width="1.35" />
<line x1="950.8" y1="663.41" x2="1010.8" y2="723.41" stroke="#000" stroke-width="1.35" />
<line x1="950.8" y1="679.24" x2="1010.8" y2="739.24" stroke="#000" stroke-width="1.35" />
<line x1="950.8" y1="695.07" x2="1010.8" y2="755.07" stroke="#000" stroke-width="1.35" />
<line x1="950.8" y1="710.9" x2="1010.8" y2="770.9" stroke="#000" stroke-width="1.35" />
<line x1="950.8" y1="726.73" x2="1010.8" y2="786.73" stroke="#000" stroke-width="1.35" />
<line x1="950.8" y1="742.56" x2="1010.8" y2="802.56" stroke="#000" stroke-width="1.35" />
<line x1="950.8" y1="758.39" x2="1010.8" y2="818.39" stroke="#000" stroke-width="1.35" />
<line x1="950.8" y1="774.22" x2="1010.8" y2="834.22" stroke="#000" stroke-width="1.35" />
<line x1="950.8" y1="790.05" x2="1010.8" y2="850.05" stroke="#000" stroke-width="1.35" />
<line x1="950.8" y1="805.88" x2="1010.8" y2="865.88" stroke="#000" stroke-width="1.35" />
<line x1="950.8" y1="821.71" x2="1010.8" y2="881.71" stroke="#000" stroke-width="1.35" />
<line x1="950.8" y1="837.54" x2="1010.8" y2="897.54" stroke="#000" stroke-width="1.35" />
<line x1="950.8" y1="853.37" x2="1010.8" y2="913.37" stroke="#000" stroke-width="1.35" />
<line x1="950.8" y1="869.2" x2="1010.8" y2="929.2" stroke="#000" stroke-width="1.35" />
<line x1="950.8" y1="885.03" x2="1010.8" y2="945.03" stroke="#000" stroke-width="1.35" />
</g>
<line x1="1010.8" y1="612" x2="1010.8" y2="866.4" stroke="#000" stroke-width="1.6" />
<rect x="975.6" y="679.4" width="37" height="8.4" fill="#fff"/>
<path d="M1011.6,679.4 L975.6,679.4 L975.6,687.8 L1011.6,687.8" fill="none" stroke="#000" stroke-width="1.5" />
<rect x="975.6" y="775.5" width="37" height="8.4" fill="#fff"/>
<path d="M1011.6,775.5 L975.6,775.5 L975.6,783.9 L1011.6,783.9" fill="none" stroke="#000" stroke-width="1.5" />
<path d="M1048.2,681.5 L1050,679.75 L1051.5,680.25 L1053,679.75 L1054.5,680.25 L1056,679.75 L1057.5,680.25 L1059,679.75 L1060.5,680.25 L1062,679.75 L1063.5,680.25 L1065,679.75 L1066.5,680.25 L1068,679.75 L1069.5,680.25 L1071,679.75 L1072.5,680.25 L1072.6,680 L1072.6,687.4 L1072.5,687.15 L1071,687.65 L1069.5,687.15 L1068,687.65 L1066.5,687.15 L1065,687.65 L1063.5,687.15 L1062,687.65 L1060.5,687.15 L1059,687.65 L1057.5,687.15 L1056,687.65 L1054.5,687.15 L1053,687.65 L1051.5,687.15 L1050,687.65 L1048.2,685.9 Z" fill="#fff" stroke="#000" stroke-width="1.25" stroke-linejoin="round"/>
<path d="M1072.6,679.8 L1075.9,678.6 L1075.9,688.8 L1072.6,687.6 Z" fill="#777" stroke="#000" stroke-width="1.0" />
<path d="M1048.2,777.8 L1050,776.05 L1051.5,776.55 L1053,776.05 L1054.5,776.55 L1056,776.05 L1057.5,776.55 L1059,776.05 L1060.5,776.55 L1062,776.05 L1063.5,776.55 L1065,776.05 L1066.5,776.55 L1068,776.05 L1069.5,776.55 L1071,776.05 L1072.5,776.55 L1072.6,776.3 L1072.6,783.7 L1072.5,783.45 L1071,783.95 L1069.5,783.45 L1068,783.95 L1066.5,783.45 L1065,783.95 L1063.5,783.45 L1062,783.95 L1060.5,783.45 L1059,783.95 L1057.5,783.45 L1056,783.95 L1054.5,783.45 L1053,783.95 L1051.5,783.45 L1050,783.95 L1048.2,782.2 Z" fill="#fff" stroke="#000" stroke-width="1.25" stroke-linejoin="round"/>
<path d="M1072.6,776.1 L1075.9,774.9 L1075.9,785.1 L1072.6,783.9 Z" fill="#777" stroke="#000" stroke-width="1.0" />
<path d="M1111.3,660.8 H1085 Q1082,660.8 1082,663.8 V822.2 Q1082,825.2 1085,825.2 H1111.3" fill="none" stroke="#000" stroke-width="4.2" stroke-linejoin="round"/>
<path d="M1111.3,660.8 H1085 Q1082,660.8 1082,663.8 V822.2 Q1082,825.2 1085,825.2 H1111.3" fill="none" stroke="#fff" stroke-width="2.0" stroke-linejoin="round"/>
<line x1="1111.3" y1="658.7" x2="1111.3" y2="662.9" stroke="#000" stroke-width="1.1" />
<line x1="1111.3" y1="823.1" x2="1111.3" y2="827.3" stroke="#000" stroke-width="1.1" />
<path d="M1105.3,684.5 L1110,682.9 L1134.6,679.3 L1134.6,689.7 L1110,686.1 Z" fill="#c4c4c4" stroke="#000" stroke-width="0.9" stroke-linejoin="round"/>
<line x1="1107" y1="683.63" x2="1107" y2="685.37" stroke="#000" stroke-width="0.9" />
<line x1="1108.1" y1="683.46" x2="1108.1" y2="685.54" stroke="#000" stroke-width="0.9" />
<line x1="1109.2" y1="683.29" x2="1109.2" y2="685.71" stroke="#000" stroke-width="0.9" />
<line x1="1110.3" y1="683.12" x2="1110.3" y2="685.88" stroke="#000" stroke-width="0.9" />
<line x1="1111.4" y1="682.94" x2="1111.4" y2="686.06" stroke="#000" stroke-width="0.9" />
<line x1="1112.5" y1="682.77" x2="1112.5" y2="686.23" stroke="#000" stroke-width="0.9" />
<line x1="1113.6" y1="682.6" x2="1113.6" y2="686.4" stroke="#000" stroke-width="0.9" />
<line x1="1114.7" y1="682.42" x2="1114.7" y2="686.58" stroke="#000" stroke-width="0.9" />
<line x1="1115.8" y1="682.25" x2="1115.8" y2="686.75" stroke="#000" stroke-width="0.9" />
<line x1="1116.9" y1="682.08" x2="1116.9" y2="686.92" stroke="#000" stroke-width="0.9" />
<line x1="1118" y1="681.91" x2="1118" y2="687.09" stroke="#000" stroke-width="0.9" />
<line x1="1119.1" y1="681.73" x2="1119.1" y2="687.27" stroke="#000" stroke-width="0.7" />
<line x1="1120.65" y1="681.49" x2="1120.65" y2="687.51" stroke="#000" stroke-width="0.7" />
<line x1="1122.2" y1="681.25" x2="1122.2" y2="687.75" stroke="#000" stroke-width="0.7" />
<line x1="1123.75" y1="681" x2="1123.75" y2="688" stroke="#000" stroke-width="0.7" />
<line x1="1125.3" y1="680.76" x2="1125.3" y2="688.24" stroke="#000" stroke-width="0.7" />
<line x1="1126.85" y1="680.52" x2="1126.85" y2="688.48" stroke="#000" stroke-width="0.7" />
<line x1="1128.4" y1="680.27" x2="1128.4" y2="688.73" stroke="#000" stroke-width="0.7" />
<line x1="1129.95" y1="680.03" x2="1129.95" y2="688.97" stroke="#000" stroke-width="0.7" />
<line x1="1131.5" y1="679.79" x2="1131.5" y2="689.21" stroke="#000" stroke-width="0.7" />
<line x1="1133.05" y1="679.54" x2="1133.05" y2="689.46" stroke="#000" stroke-width="0.7" />
<path d="M1135,675.5 Q1140.2,679.5 1139.7,684.5 Q1140.2,689.5 1135,693.5 Z" fill="#fff" stroke="#000" stroke-width="1.0" stroke-linejoin="round"/>
<line x1="1135" y1="675.2" x2="1135" y2="693.8" stroke="#000" stroke-width="1.4" />
<path d="M1105.3,781.6 L1110,780 L1134.6,776.4 L1134.6,786.8 L1110,783.2 Z" fill="#c4c4c4" stroke="#000" stroke-width="0.9" stroke-linejoin="round"/>
<line x1="1107" y1="780.73" x2="1107" y2="782.47" stroke="#000" stroke-width="0.9" />
<line x1="1108.1" y1="780.56" x2="1108.1" y2="782.64" stroke="#000" stroke-width="0.9" />
<line x1="1109.2" y1="780.39" x2="1109.2" y2="782.81" stroke="#000" stroke-width="0.9" />
<line x1="1110.3" y1="780.22" x2="1110.3" y2="782.98" stroke="#000" stroke-width="0.9" />
<line x1="1111.4" y1="780.04" x2="1111.4" y2="783.16" stroke="#000" stroke-width="0.9" />
<line x1="1112.5" y1="779.87" x2="1112.5" y2="783.33" stroke="#000" stroke-width="0.9" />
<line x1="1113.6" y1="779.7" x2="1113.6" y2="783.5" stroke="#000" stroke-width="0.9" />
<line x1="1114.7" y1="779.52" x2="1114.7" y2="783.68" stroke="#000" stroke-width="0.9" />
<line x1="1115.8" y1="779.35" x2="1115.8" y2="783.85" stroke="#000" stroke-width="0.9" />
<line x1="1116.9" y1="779.18" x2="1116.9" y2="784.02" stroke="#000" stroke-width="0.9" />
<line x1="1118" y1="779.01" x2="1118" y2="784.19" stroke="#000" stroke-width="0.9" />
<line x1="1119.1" y1="778.83" x2="1119.1" y2="784.37" stroke="#000" stroke-width="0.7" />
<line x1="1120.65" y1="778.59" x2="1120.65" y2="784.61" stroke="#000" stroke-width="0.7" />
<line x1="1122.2" y1="778.35" x2="1122.2" y2="784.85" stroke="#000" stroke-width="0.7" />
<line x1="1123.75" y1="778.1" x2="1123.75" y2="785.1" stroke="#000" stroke-width="0.7" />
<line x1="1125.3" y1="777.86" x2="1125.3" y2="785.34" stroke="#000" stroke-width="0.7" />
<line x1="1126.85" y1="777.62" x2="1126.85" y2="785.58" stroke="#000" stroke-width="0.7" />
<line x1="1128.4" y1="777.37" x2="1128.4" y2="785.83" stroke="#000" stroke-width="0.7" />
<line x1="1129.95" y1="777.13" x2="1129.95" y2="786.07" stroke="#000" stroke-width="0.7" />
<line x1="1131.5" y1="776.89" x2="1131.5" y2="786.31" stroke="#000" stroke-width="0.7" />
<line x1="1133.05" y1="776.64" x2="1133.05" y2="786.56" stroke="#000" stroke-width="0.7" />
<path d="M1135,772.6 Q1140.2,776.6 1139.7,781.6 Q1140.2,786.6 1135,790.6 Z" fill="#fff" stroke="#000" stroke-width="1.0" stroke-linejoin="round"/>
<line x1="1135" y1="772.3" x2="1135" y2="790.9" stroke="#000" stroke-width="1.4" />
<path d="M1100.9,675.3 L1100.9,645.3 L1276.5,662.4 L1276.5,654.6" fill="none" stroke="#000" stroke-width="1.3" stroke-dasharray="7 2.4" stroke-linecap="butt"/>
<path d="M1100.9,811 L1100.9,840.4 L1276.5,823.6 L1276.5,831.6" fill="none" stroke="#000" stroke-width="1.3" stroke-dasharray="7 2.4" stroke-linecap="butt"/>
<path d="M1111,854.5 L1078.1,854.5 L1078.1,851.7 L1066.1,856.2 L1078.1,860.7 L1078.1,857.9 L1111,857.9 Z" fill="#fff" stroke="#000" stroke-width="1.15" stroke-linejoin="round"/>
<ellipse cx="1078.1" cy="856.2" rx="1.3" ry="4.5" fill="none" stroke="#000" stroke-width="0.92" transform="rotate(180 1078.1 856.2)"/>
<ellipse cx="1110.4" cy="856.2" rx="1.0" ry="1.7" fill="#fff" stroke="#000" stroke-width="0.92" transform="rotate(180 1110.4 856.2)"/>
<circle cx="1094" cy="895.4" r="22.9" fill="#fff" stroke="#000" stroke-width="1.5"/>
<text x="1094" y="907.21" font-size="33" text-anchor="middle"  stroke="#000" stroke-width="0.35" stroke-linejoin="round">2</text>
<path d="M1253.2,654.7 H1288.4 A8.8,8.8 0 0 1 1297.2,663.5 V822.8 A8.8,8.8 0 0 1 1288.4,831.6 H1253.2 Z" fill="none" stroke="#000" stroke-width="1.6" />
<rect x="1238.4" y="729.3" width="9.2" height="6.9" rx="1.8" fill="#fff" stroke="#000" stroke-width="1.2" />
<rect x="1238.4" y="748.2" width="9.2" height="7.6" rx="1.8" fill="#fff" stroke="#000" stroke-width="1.2" />
<rect x="1238.2" y="736" width="9.6" height="12.2" rx="1.2" fill="#fff" stroke="#000" stroke-width="1.2" />
<rect x="1252.9" y="728.9" width="4.7" height="31.8" fill="#000"/>
<circle cx="1257.1" cy="730.12" r="1.15" fill="#000"/>
<circle cx="1257.1" cy="732.58" r="1.15" fill="#000"/>
<circle cx="1257.1" cy="735.03" r="1.15" fill="#000"/>
<circle cx="1257.1" cy="737.48" r="1.15" fill="#000"/>
<circle cx="1257.1" cy="739.93" r="1.15" fill="#000"/>
<circle cx="1257.1" cy="742.38" r="1.15" fill="#000"/>
<circle cx="1257.1" cy="744.83" r="1.15" fill="#000"/>
<circle cx="1257.1" cy="747.28" r="1.15" fill="#000"/>
<circle cx="1257.1" cy="749.73" r="1.15" fill="#000"/>
<circle cx="1257.1" cy="752.18" r="1.15" fill="#000"/>
<circle cx="1257.1" cy="754.63" r="1.15" fill="#000"/>
<circle cx="1257.1" cy="757.08" r="1.15" fill="#000"/>
<circle cx="1257.1" cy="759.53" r="1.15" fill="#000"/>
<rect x="1261.3" y="728.9" width="5.3" height="31.8" fill="#000"/>
<circle cx="1266.1" cy="730.12" r="1.15" fill="#000"/>
<circle cx="1266.1" cy="732.58" r="1.15" fill="#000"/>
<circle cx="1266.1" cy="735.03" r="1.15" fill="#000"/>
<circle cx="1266.1" cy="737.48" r="1.15" fill="#000"/>
<circle cx="1266.1" cy="739.93" r="1.15" fill="#000"/>
<circle cx="1266.1" cy="742.38" r="1.15" fill="#000"/>
<circle cx="1266.1" cy="744.83" r="1.15" fill="#000"/>
<circle cx="1266.1" cy="747.28" r="1.15" fill="#000"/>
<circle cx="1266.1" cy="749.73" r="1.15" fill="#000"/>
<circle cx="1266.1" cy="752.18" r="1.15" fill="#000"/>
<circle cx="1266.1" cy="754.63" r="1.15" fill="#000"/>
<circle cx="1266.1" cy="757.08" r="1.15" fill="#000"/>
<circle cx="1266.1" cy="759.53" r="1.15" fill="#000"/>
<line x1="1257.5" y1="766.3" x2="1260" y2="766.3" stroke="#000" stroke-width="1.0" />
<path d="M1269.1,621 L1269.1,620 Q1271.1,617.8 1276.6,617.4 Q1282.1,617.8 1284.1,620 L1284.1,621 Z" fill="#000" stroke="#000" stroke-width="0.6" />
<rect x="1272.7" y="621" width="7.8" height="21.4" rx="0" fill="#000" stroke="#000" stroke-width="0.6" />
<line x1="1276.6" y1="613.8" x2="1276.6" y2="619" stroke="#000" stroke-width="0.9" />
<line x1="1276.6" y1="644.6" x2="1276.6" y2="652" stroke="#000" stroke-width="1.3" />
<path d="M1268.7,859.8 L1268.7,860.8 Q1270.7,863 1276.2,863.4 Q1281.7,863 1283.7,860.8 L1283.7,859.8 Z" fill="#000" stroke="#000" stroke-width="0.6" />
<rect x="1272.3" y="836.9" width="7.8" height="22.9" rx="0" fill="#000" stroke="#000" stroke-width="0.6" />
<line x1="1276.2" y1="833.6" x2="1276.2" y2="838" stroke="#000" stroke-width="0.9" />
<path d="M1269.31,910.27 L1266.64,910.01 L1264.05,909.64 L1261.54,909.17 L1259.15,908.62 L1256.89,907.97 L1254.79,907.24 L1252.86,906.43 L1251.12,905.56 L1249.58,904.62 L1248.25,903.62 L1247.16,902.58 L1246.3,901.51 L1245.68,900.4 L1245.31,899.28 L1245.2,898.15 L1245.34,897.01 L1245.73,895.89 L1246.37,894.79 L1247.25,893.72 L1248.37,892.68 L1249.71,891.69 L1251.27,890.76 L1253.03,889.89 L1254.98,889.09 L1257.1,888.37 L1259.37,887.73 L1261.77,887.18 L1264.29,886.72 L1266.89,886.36 L1269.57,886.11 L1272.29,885.95 L1275.03,885.9 L1277.78,885.95 L1280.5,886.11 L1283.17,886.37 L1285.78,886.73 L1288.29,887.19 L1290.69,887.74 L1292.95,888.38 L1295.07,889.11 L1297.01,889.91 L1298.77,890.78 L1300.32,891.72 L1301.66,892.71 L1302.77,893.74 L1303.65,894.82 L1304.28,895.92 L1304.67,897.04 L1304.8,898.17 L1304.68,899.31 L1304.31,900.43 L1303.68,901.54 L1302.82,902.61 L1301.72,903.65 L1300.39,904.64 L1298.84,905.58 L1297.09,906.45 L1295.16,907.26 L1293.05,907.99 L1290.79,908.63 L1289.2,904.81 L1291.23,904.36 L1293.13,903.86 L1294.87,903.3 L1296.44,902.7 L1297.83,902.05 L1299.03,901.37 L1300.02,900.65 L1300.8,899.9 L1301.36,899.14 L1301.69,898.37 L1301.8,897.58 L1301.68,896.8 L1301.34,896.02 L1300.77,895.26 L1299.98,894.52 L1298.98,893.8 L1297.77,893.12 L1296.38,892.47 L1294.8,891.87 L1293.05,891.32 L1291.15,890.82 L1289.11,890.37 L1286.95,889.99 L1284.69,889.68 L1282.35,889.43 L1279.95,889.25 L1277.5,889.14 L1275.03,889.1 L1272.56,889.14 L1270.12,889.24 L1267.71,889.42 L1265.37,889.67 L1263.1,889.98 L1260.94,890.36 L1258.9,890.8 L1257,891.3 L1255.25,891.86 L1253.66,892.46 L1252.26,893.1 L1251.05,893.79 L1250.04,894.5 L1249.25,895.24 L1248.68,896 L1248.32,896.78 L1248.2,897.56 L1248.3,898.35 L1248.63,899.12 L1249.19,899.89 L1249.96,900.63 L1250.95,901.35 L1252.14,902.03 L1253.52,902.68 L1255.09,903.29 L1256.83,903.85 L1258.72,904.35 L1260.75,904.8 L1262.9,905.18 L1265.15,905.5 L1267.49,905.76 L1269.89,905.94 Z" fill="none" stroke="#000" stroke-width="1.25" stroke-linejoin="round"/>
<path d="M1289.39,902.77 L1281.37,908.03 L1290.6,910.67 Z" fill="#fff" stroke="#000" stroke-width="1.25" stroke-linejoin="round"/>
<path d="M1277.9,911.6 L1277.9,878.7 L1280.4,878.7 L1276.1,865.3 L1271.8,878.7 L1274.3,878.7 L1274.3,911.6 Z" fill="#fff" stroke="#000" stroke-width="1.15" stroke-linejoin="round"/>
<ellipse cx="1276.1" cy="878.7" rx="1.3" ry="4.3" fill="none" stroke="#000" stroke-width="0.92" transform="rotate(-90 1276.1 878.7)"/>
<ellipse cx="1276.1" cy="911" rx="1.0" ry="1.8" fill="#fff" stroke="#000" stroke-width="0.92" transform="rotate(-90 1276.1 911)"/>
<circle cx="1277.2" cy="954.7" r="22.9" fill="#fff" stroke="#000" stroke-width="1.5"/>
<text x="1277.2" y="965.81" font-size="33" text-anchor="middle"  stroke="#000" stroke-width="0.35" stroke-linejoin="round">4</text>
<path d="M1212.29,738.66 L1212.07,736.4 L1211.77,734.21 L1211.4,732.09 L1210.95,730.08 L1210.44,728.18 L1209.87,726.41 L1209.24,724.78 L1208.56,723.31 L1207.82,722.02 L1207.05,720.9 L1206.24,719.97 L1205.41,719.25 L1204.55,718.72 L1203.68,718.41 L1202.8,718.3 L1201.92,718.41 L1201.05,718.72 L1200.19,719.25 L1199.36,719.97 L1198.55,720.9 L1197.78,722.02 L1197.04,723.31 L1196.36,724.78 L1195.73,726.41 L1195.16,728.18 L1194.65,730.08 L1194.2,732.09 L1193.83,734.21 L1193.53,736.4 L1193.31,738.66 L1193.17,740.96 L1193.1,743.28 L1193.12,745.61 L1193.21,747.93 L1193.39,750.22 L1193.64,752.45 L1193.97,754.62 L1194.37,756.69 L1194.83,758.67 L1195.37,760.52 L1195.97,762.24 L1196.62,763.8 L1197.32,765.21 L1198.07,766.43 L1198.85,767.48 L1199.67,768.33 L1200.52,768.98 L1201.38,769.42 L1202.26,769.66 L1203.14,769.68 L1204.02,769.5 L1204.88,769.1 L1205.73,768.5 L1206.56,767.69 L1207.35,766.69 L1208.11,765.5 L1208.83,764.14 L1209.49,762.61 L1210.1,760.93 L1210.65,759.11 L1207.71,757.7 L1207.39,759.35 L1207.03,760.87 L1206.64,762.26 L1206.22,763.5 L1205.78,764.57 L1205.31,765.48 L1204.82,766.21 L1204.32,766.76 L1203.81,767.12 L1203.3,767.29 L1202.78,767.26 L1202.27,767.05 L1201.76,766.65 L1201.26,766.06 L1200.78,765.29 L1200.32,764.34 L1199.88,763.23 L1199.47,761.95 L1199.08,760.53 L1198.73,758.98 L1198.42,757.3 L1198.14,755.51 L1197.91,753.63 L1197.72,751.66 L1197.57,749.64 L1197.47,747.56 L1197.41,745.46 L1197.4,743.35 L1197.44,741.24 L1197.52,739.16 L1197.65,737.11 L1197.83,735.12 L1198.05,733.21 L1198.31,731.38 L1198.61,729.66 L1198.94,728.05 L1199.32,726.58 L1199.72,725.25 L1200.15,724.07 L1200.6,723.06 L1201.08,722.22 L1201.57,721.56 L1202.07,721.08 L1202.58,720.8 L1203.1,720.7 L1203.62,720.8 L1204.13,721.08 L1204.63,721.56 L1205.12,722.22 L1205.6,723.06 L1206.05,724.07 L1206.48,725.25 L1206.88,726.58 L1207.26,728.05 L1207.59,729.66 L1207.89,731.38 L1208.15,733.21 L1208.37,735.12 L1208.55,737.11 L1208.68,739.16 Z" fill="none" stroke="#000" stroke-width="1.2" stroke-linejoin="round"/>
<path d="M1212.94,758.92 L1210.51,748.67 L1205.41,757.89 Z" fill="#fff" stroke="#000" stroke-width="1.2" stroke-linejoin="round"/>
<path d="M1188.3,744.65 L1215.2,744.65 L1215.2,747.7 L1226.6,742.9 L1215.2,738.1 L1215.2,741.15 L1188.3,741.15 Z" fill="#fff" stroke="#000" stroke-width="1.15" stroke-linejoin="round"/>
<ellipse cx="1215.2" cy="742.9" rx="1.3" ry="4.8" fill="none" stroke="#000" stroke-width="0.92" transform="rotate(0 1215.2 742.9)"/>
<ellipse cx="1188.9" cy="742.9" rx="1.0" ry="1.75" fill="#fff" stroke="#000" stroke-width="0.92" transform="rotate(0 1188.9 742.9)"/>
<circle cx="1344.1" cy="663.3" r="22.9" fill="#fff" stroke="#000" stroke-width="1.5"/>
<text x="1344.1" y="676.11" font-size="33" text-anchor="middle"  stroke="#000" stroke-width="0.35" stroke-linejoin="round">1</text>
<path d="M1361,705.7 L1327.2,705.7 L1327.2,702.9 L1315.6,707.4 L1327.2,711.9 L1327.2,709.1 L1361,709.1 Z" fill="#fff" stroke="#000" stroke-width="1.15" stroke-linejoin="round"/>
<ellipse cx="1327.2" cy="707.4" rx="1.3" ry="4.5" fill="none" stroke="#000" stroke-width="0.92" transform="rotate(180 1327.2 707.4)"/>
<ellipse cx="1360.4" cy="707.4" rx="1.0" ry="1.7" fill="#fff" stroke="#000" stroke-width="0.92" transform="rotate(180 1360.4 707.4)"/>
<line x1="1278.3" y1="742.8" x2="1347" y2="742.8" stroke="#000" stroke-width="1.3" stroke-dasharray="8 3.2"/>
<rect x="1347.8" y="735" width="17.6" height="15.8" rx="0" fill="#fff" stroke="#000" stroke-width="1.7" />
<rect x="1368.5" y="733.2" width="173" height="20.2" rx="0" fill="#fff" stroke="#000" stroke-width="1.5" />
<rect x="1365.2" y="730.7" width="3.5" height="24.8" rx="1.6" fill="#fff" stroke="#000" stroke-width="1.1" />
<rect x="1570.2" y="625.1" width="48.4" height="12.9" fill="#000"/>
<line x1="1572.18" y1="626.52" x2="1617.31" y2="626.35" stroke="#fff" stroke-width="1.20"/>
<line x1="1571.47" y1="628.89" x2="1616.79" y2="628.72" stroke="#fff" stroke-width="1.00"/>
<line x1="1571.48" y1="630.54" x2="1617.29" y2="630.93" stroke="#fff" stroke-width="1.00"/>
<line x1="1571.55" y1="633.07" x2="1617.13" y2="633.48" stroke="#fff" stroke-width="1.20"/>
<line x1="1572.09" y1="635.43" x2="1616.92" y2="635.75" stroke="#fff" stroke-width="1.00"/>
<circle cx="1569.8" cy="628.3" r="1" fill="#000" stroke="#000" stroke-width="0.6"/>
<circle cx="1619" cy="628.3" r="1" fill="#000" stroke="#000" stroke-width="0.6"/>
<circle cx="1569.8" cy="631.6" r="1" fill="#000" stroke="#000" stroke-width="0.6"/>
<circle cx="1619" cy="631.6" r="1" fill="#000" stroke="#000" stroke-width="0.6"/>
<circle cx="1569.8" cy="634.9" r="1" fill="#000" stroke="#000" stroke-width="0.6"/>
<circle cx="1619" cy="634.9" r="1" fill="#000" stroke="#000" stroke-width="0.6"/>
<rect x="1571.2" y="638" width="16.6" height="60.4" fill="#000"/>
<line x1="1573.43" y1="640.08" x2="1586.25" y2="639.15" stroke="#fff" stroke-width="0.82"/>
<line x1="1572.77" y1="641.54" x2="1585.62" y2="641.52" stroke="#fff" stroke-width="0.62"/>
<line x1="1573.17" y1="643.88" x2="1586.15" y2="644.28" stroke="#fff" stroke-width="0.62"/>
<line x1="1572.47" y1="646.55" x2="1586.35" y2="646.06" stroke="#fff" stroke-width="0.82"/>
<line x1="1572.78" y1="648.98" x2="1585.9" y2="648.73" stroke="#fff" stroke-width="0.62"/>
<line x1="1573.35" y1="651.05" x2="1585.76" y2="650.9" stroke="#fff" stroke-width="0.62"/>
<line x1="1573.03" y1="653.14" x2="1585.55" y2="653.47" stroke="#fff" stroke-width="0.82"/>
<line x1="1573.58" y1="655.93" x2="1586.46" y2="655.49" stroke="#fff" stroke-width="0.62"/>
<line x1="1572.58" y1="657.92" x2="1586.01" y2="658.26" stroke="#fff" stroke-width="0.62"/>
<line x1="1573.32" y1="659.84" x2="1585.91" y2="660.47" stroke="#fff" stroke-width="0.82"/>
<line x1="1573.23" y1="662.98" x2="1585.89" y2="662.41" stroke="#fff" stroke-width="0.62"/>
<line x1="1573.41" y1="664.98" x2="1585.47" y2="664.86" stroke="#fff" stroke-width="0.62"/>
<line x1="1572.47" y1="667.17" x2="1585.76" y2="667.36" stroke="#fff" stroke-width="0.82"/>
<line x1="1573.39" y1="669.65" x2="1586.26" y2="669.99" stroke="#fff" stroke-width="0.62"/>
<line x1="1572.43" y1="671.69" x2="1586.05" y2="671.97" stroke="#fff" stroke-width="0.62"/>
<line x1="1572.47" y1="673.77" x2="1585.68" y2="673.72" stroke="#fff" stroke-width="0.82"/>
<line x1="1572.87" y1="676.03" x2="1585.55" y2="676.15" stroke="#fff" stroke-width="0.62"/>
<line x1="1573.06" y1="678.28" x2="1585.54" y2="678.65" stroke="#fff" stroke-width="0.62"/>
<line x1="1572.73" y1="681.32" x2="1586.1" y2="681.36" stroke="#fff" stroke-width="0.82"/>
<line x1="1573.55" y1="683.16" x2="1586.42" y2="683.68" stroke="#fff" stroke-width="0.62"/>
<line x1="1572.68" y1="685.28" x2="1586.02" y2="685.33" stroke="#fff" stroke-width="0.62"/>
<line x1="1572.4" y1="687.99" x2="1586.1" y2="687.66" stroke="#fff" stroke-width="0.82"/>
<line x1="1573.54" y1="690.07" x2="1585.77" y2="690.27" stroke="#fff" stroke-width="0.62"/>
<line x1="1573.21" y1="692.52" x2="1586.54" y2="692.62" stroke="#fff" stroke-width="0.62"/>
<line x1="1573.45" y1="695.2" x2="1585.64" y2="695.08" stroke="#fff" stroke-width="0.82"/>
<line x1="1572.52" y1="696.99" x2="1585.84" y2="697" stroke="#fff" stroke-width="0.62"/>
<rect x="1601.2" y="638" width="16.6" height="60.4" fill="#000"/>
<line x1="1602.65" y1="639.16" x2="1616.41" y2="639.17" stroke="#fff" stroke-width="0.82"/>
<line x1="1602.4" y1="641.74" x2="1616.42" y2="641.45" stroke="#fff" stroke-width="0.62"/>
<line x1="1602.43" y1="643.8" x2="1615.55" y2="644.06" stroke="#fff" stroke-width="0.62"/>
<line x1="1602.7" y1="646.61" x2="1616.18" y2="646.15" stroke="#fff" stroke-width="0.82"/>
<line x1="1603.42" y1="648.66" x2="1615.41" y2="648.42" stroke="#fff" stroke-width="0.62"/>
<line x1="1602.5" y1="651.07" x2="1616.48" y2="651.08" stroke="#fff" stroke-width="0.62"/>
<line x1="1603.39" y1="653.24" x2="1616.41" y2="653.16" stroke="#fff" stroke-width="0.82"/>
<line x1="1603.03" y1="655.22" x2="1616.42" y2="656.15" stroke="#fff" stroke-width="0.62"/>
<line x1="1603.03" y1="658.04" x2="1615.43" y2="657.53" stroke="#fff" stroke-width="0.62"/>
<line x1="1602.71" y1="660.66" x2="1616.16" y2="660.5" stroke="#fff" stroke-width="0.82"/>
<line x1="1603.04" y1="662.27" x2="1615.67" y2="662.87" stroke="#fff" stroke-width="0.62"/>
<line x1="1603.37" y1="664.73" x2="1615.42" y2="664.62" stroke="#fff" stroke-width="0.62"/>
<line x1="1603.38" y1="667.55" x2="1615.71" y2="667.51" stroke="#fff" stroke-width="0.82"/>
<line x1="1602.83" y1="669.23" x2="1616.57" y2="669.52" stroke="#fff" stroke-width="0.62"/>
<line x1="1602.71" y1="671.33" x2="1615.77" y2="671.58" stroke="#fff" stroke-width="0.62"/>
<line x1="1603.52" y1="674.56" x2="1615.41" y2="674.05" stroke="#fff" stroke-width="0.82"/>
<line x1="1602.66" y1="676.86" x2="1616.33" y2="676.26" stroke="#fff" stroke-width="0.62"/>
<line x1="1603.15" y1="678.4" x2="1615.52" y2="678.4" stroke="#fff" stroke-width="0.62"/>
<line x1="1603.18" y1="681.34" x2="1615.64" y2="680.98" stroke="#fff" stroke-width="0.82"/>
<line x1="1603.49" y1="682.88" x2="1615.66" y2="683.46" stroke="#fff" stroke-width="0.62"/>
<line x1="1602.61" y1="685.85" x2="1615.65" y2="685.58" stroke="#fff" stroke-width="0.62"/>
<line x1="1603.57" y1="687.73" x2="1616.12" y2="688.2" stroke="#fff" stroke-width="0.82"/>
<line x1="1603.27" y1="690.1" x2="1616.4" y2="690.65" stroke="#fff" stroke-width="0.62"/>
<line x1="1603.49" y1="692.13" x2="1615.63" y2="692.15" stroke="#fff" stroke-width="0.62"/>
<line x1="1603.58" y1="694.45" x2="1615.81" y2="695.13" stroke="#fff" stroke-width="0.82"/>
<line x1="1602.56" y1="696.95" x2="1616.58" y2="697.15" stroke="#fff" stroke-width="0.62"/>
<line x1="1587.8" y1="670.3" x2="1601.2" y2="670.3" stroke="#000" stroke-width="1.5" />
<path d="M1571.6,698.4 L1572.8,707.5 M1617.4,698.4 L1616.2,707.5" fill="none" stroke="#000" stroke-width="1.1" />
<rect x="1570.2" y="847.4" width="48.4" height="12.9" fill="#000"/>
<line x1="1572.03" y1="849.47" x2="1616.28" y2="849.15" stroke="#fff" stroke-width="1.20"/>
<line x1="1572.39" y1="851.08" x2="1617.15" y2="851.52" stroke="#fff" stroke-width="1.00"/>
<line x1="1571.69" y1="853.05" x2="1616.7" y2="853.09" stroke="#fff" stroke-width="1.00"/>
<line x1="1571.56" y1="855.21" x2="1616.31" y2="855.37" stroke="#fff" stroke-width="1.20"/>
<line x1="1572.1" y1="857.45" x2="1616.31" y2="857.56" stroke="#fff" stroke-width="1.00"/>
<circle cx="1569.8" cy="857.1" r="1" fill="#000" stroke="#000" stroke-width="0.6"/>
<circle cx="1619" cy="857.1" r="1" fill="#000" stroke="#000" stroke-width="0.6"/>
<circle cx="1569.8" cy="853.8" r="1" fill="#000" stroke="#000" stroke-width="0.6"/>
<circle cx="1619" cy="853.8" r="1" fill="#000" stroke="#000" stroke-width="0.6"/>
<circle cx="1569.8" cy="850.5" r="1" fill="#000" stroke="#000" stroke-width="0.6"/>
<circle cx="1619" cy="850.5" r="1" fill="#000" stroke="#000" stroke-width="0.6"/>
<rect x="1571.2" y="787" width="16.6" height="60.4" fill="#000"/>
<line x1="1573" y1="788.52" x2="1585.96" y2="789.02" stroke="#fff" stroke-width="0.82"/>
<line x1="1572.93" y1="790.92" x2="1586.38" y2="790.42" stroke="#fff" stroke-width="0.62"/>
<line x1="1572.61" y1="792.7" x2="1586.03" y2="793.5" stroke="#fff" stroke-width="0.62"/>
<line x1="1572.79" y1="795.73" x2="1585.98" y2="795.56" stroke="#fff" stroke-width="0.82"/>
<line x1="1572.53" y1="797.86" x2="1585.93" y2="798.08" stroke="#fff" stroke-width="0.62"/>
<line x1="1573.33" y1="799.85" x2="1585.99" y2="799.88" stroke="#fff" stroke-width="0.62"/>
<line x1="1573.49" y1="802.46" x2="1586.07" y2="802.66" stroke="#fff" stroke-width="0.82"/>
<line x1="1573.01" y1="804.81" x2="1585.77" y2="804.71" stroke="#fff" stroke-width="0.62"/>
<line x1="1572.97" y1="806.95" x2="1585.47" y2="807.03" stroke="#fff" stroke-width="0.62"/>
<line x1="1573.53" y1="809.5" x2="1586.29" y2="809.68" stroke="#fff" stroke-width="0.82"/>
<line x1="1573.41" y1="811.66" x2="1586.44" y2="812.04" stroke="#fff" stroke-width="0.62"/>
<line x1="1572.49" y1="813.52" x2="1586.31" y2="813.84" stroke="#fff" stroke-width="0.62"/>
<line x1="1573.34" y1="815.77" x2="1585.52" y2="816.37" stroke="#fff" stroke-width="0.82"/>
<line x1="1573.19" y1="818.15" x2="1586.43" y2="818.72" stroke="#fff" stroke-width="0.62"/>
<line x1="1572.66" y1="821.18" x2="1585.46" y2="821.27" stroke="#fff" stroke-width="0.62"/>
<line x1="1573.59" y1="823" x2="1585.6" y2="823.09" stroke="#fff" stroke-width="0.82"/>
<line x1="1573.02" y1="825.06" x2="1586.19" y2="825.33" stroke="#fff" stroke-width="0.62"/>
<line x1="1573.27" y1="827.4" x2="1586.58" y2="827.52" stroke="#fff" stroke-width="0.62"/>
<line x1="1572.42" y1="830.05" x2="1586.2" y2="829.94" stroke="#fff" stroke-width="0.82"/>
<line x1="1572.48" y1="832.42" x2="1585.42" y2="832.31" stroke="#fff" stroke-width="0.62"/>
<line x1="1572.53" y1="834.89" x2="1586.28" y2="835.07" stroke="#fff" stroke-width="0.62"/>
<line x1="1572.72" y1="836.44" x2="1586.44" y2="837.18" stroke="#fff" stroke-width="0.82"/>
<line x1="1573.38" y1="839.12" x2="1586.29" y2="839.61" stroke="#fff" stroke-width="0.62"/>
<line x1="1573.08" y1="841.15" x2="1585.76" y2="841.92" stroke="#fff" stroke-width="0.62"/>
<line x1="1573.23" y1="843.39" x2="1586.09" y2="843.36" stroke="#fff" stroke-width="0.82"/>
<line x1="1573.16" y1="845.67" x2="1585.64" y2="846.54" stroke="#fff" stroke-width="0.62"/>
<rect x="1601.2" y="787" width="16.6" height="60.4" fill="#000"/>
<line x1="1602.48" y1="788.18" x2="1615.56" y2="788.96" stroke="#fff" stroke-width="0.82"/>
<line x1="1603.06" y1="790.85" x2="1615.49" y2="790.74" stroke="#fff" stroke-width="0.62"/>
<line x1="1603.03" y1="792.97" x2="1616.31" y2="792.83" stroke="#fff" stroke-width="0.62"/>
<line x1="1602.46" y1="795.11" x2="1616.36" y2="795.16" stroke="#fff" stroke-width="0.82"/>
<line x1="1603.31" y1="797.61" x2="1616.25" y2="797.61" stroke="#fff" stroke-width="0.62"/>
<line x1="1602.82" y1="800.1" x2="1616.58" y2="799.78" stroke="#fff" stroke-width="0.62"/>
<line x1="1603.28" y1="802.15" x2="1615.94" y2="801.92" stroke="#fff" stroke-width="0.82"/>
<line x1="1603.52" y1="804.39" x2="1616.47" y2="804.67" stroke="#fff" stroke-width="0.62"/>
<line x1="1602.99" y1="807.32" x2="1615.6" y2="806.93" stroke="#fff" stroke-width="0.62"/>
<line x1="1603.23" y1="809.19" x2="1615.42" y2="809.31" stroke="#fff" stroke-width="0.82"/>
<line x1="1603.25" y1="811.44" x2="1615.84" y2="811.93" stroke="#fff" stroke-width="0.62"/>
<line x1="1602.47" y1="813.8" x2="1616.44" y2="813.75" stroke="#fff" stroke-width="0.62"/>
<line x1="1602.71" y1="815.77" x2="1616.4" y2="816.44" stroke="#fff" stroke-width="0.82"/>
<line x1="1603.44" y1="818.08" x2="1615.8" y2="818.84" stroke="#fff" stroke-width="0.62"/>
<line x1="1602.75" y1="820.58" x2="1616.05" y2="820.54" stroke="#fff" stroke-width="0.62"/>
<line x1="1602.72" y1="822.76" x2="1615.45" y2="823.05" stroke="#fff" stroke-width="0.82"/>
<line x1="1602.69" y1="825.87" x2="1615.44" y2="825.45" stroke="#fff" stroke-width="0.62"/>
<line x1="1602.4" y1="827.51" x2="1616.14" y2="827.56" stroke="#fff" stroke-width="0.62"/>
<line x1="1602.64" y1="829.97" x2="1615.99" y2="830" stroke="#fff" stroke-width="0.82"/>
<line x1="1602.51" y1="831.8" x2="1616.12" y2="832.06" stroke="#fff" stroke-width="0.62"/>
<line x1="1602.77" y1="834.14" x2="1616.32" y2="834.12" stroke="#fff" stroke-width="0.62"/>
<line x1="1603.3" y1="836.99" x2="1615.81" y2="836.93" stroke="#fff" stroke-width="0.82"/>
<line x1="1602.87" y1="839.42" x2="1616.21" y2="839.58" stroke="#fff" stroke-width="0.62"/>
<line x1="1603.27" y1="841.98" x2="1615.83" y2="841.15" stroke="#fff" stroke-width="0.62"/>
<line x1="1603.47" y1="843.34" x2="1615.85" y2="844.14" stroke="#fff" stroke-width="0.82"/>
<line x1="1602.57" y1="846.33" x2="1615.97" y2="846.41" stroke="#fff" stroke-width="0.62"/>
<line x1="1587.8" y1="815.1" x2="1601.2" y2="815.1" stroke="#000" stroke-width="1.5" />
<path d="M1571.6,787 L1572.8,777.9 M1617.4,787 L1616.2,777.9" fill="none" stroke="#000" stroke-width="1.1" />
<rect x="1541.3" y="707.6" width="106.3" height="70.8" rx="0" fill="#fff" stroke="#000" stroke-width="1.5" />
<path d="M1487.8,408.4 H1699.1 V507.4 C1699.1,562.4 1666.3,594.9 1620.3,610.8 H1566.6 C1520.6,594.9 1487.8,562.4 1487.8,507.4 Z" fill="#fff" stroke="none" stroke-width="0" />
<path d="M1487.8,507.4 C1487.8,562.4 1520.6,594.9 1566.6,610.8" fill="none" stroke="#000" stroke-width="1.1" />
<path d="M1699.1,507.4 C1699.1,562.4 1666.3,594.9 1620.3,610.8" fill="none" stroke="#000" stroke-width="1.1" />
<path d="M1487.8,508 V408.4 H1699.1 V508 M1566,610.8 H1621" fill="none" stroke="#000" stroke-width="1.7" stroke-linejoin="miter"/>
<path d="M1488.6,1132.1 H1700.8 V966.2 C1700.8,915.3 1672.7,882.6 1643.4,867.9 H1546 C1516.7,882.6 1488.6,915.3 1488.6,966.2 Z" fill="#fff" stroke="none" stroke-width="0" />
<path d="M1488.6,966.2 C1488.6,915.3 1516.7,882.6 1546,867.9" fill="none" stroke="#000" stroke-width="1.1" />
<path d="M1700.8,966.2 C1700.8,915.3 1672.7,882.6 1643.4,867.9" fill="none" stroke="#000" stroke-width="1.1" />
<path d="M1488.6,965.6 V1132.3 H1700.8 V965.6 M1545.4,867.9 H1644" fill="none" stroke="#000" stroke-width="1.4" stroke-linejoin="miter"/>
<path d="M1565.3,316.6 H1622.2 V355.6 C1622.2,369.6 1628,373.8 1634,378.8 H1553.4 C1559.4,373.8 1565.3,369.6 1565.3,355.6 Z" fill="#fff" stroke="#000" stroke-width="1.35" stroke-linejoin="miter"/>
<line x1="1565.3" y1="317.5" x2="1622.2" y2="317.5" stroke="#000" stroke-width="1.35" />
<line x1="1565.3" y1="319.6" x2="1622.2" y2="319.6" stroke="#000" stroke-width="0.85" />
<line x1="1565.3" y1="321.8" x2="1622.2" y2="321.8" stroke="#000" stroke-width="0.85" />
<line x1="1565.3" y1="323.9" x2="1622.2" y2="323.9" stroke="#000" stroke-width="1.35" />
<line x1="1565.3" y1="326" x2="1622.2" y2="326" stroke="#000" stroke-width="0.85" />
<line x1="1565.3" y1="328.1" x2="1622.2" y2="328.1" stroke="#000" stroke-width="0.85" />
<line x1="1565.3" y1="330" x2="1622.2" y2="330" stroke="#000" stroke-width="1.15" />
<line x1="1565.3" y1="331.6" x2="1622.2" y2="331.6" stroke="#000" stroke-width="1.15" />
<line x1="1565.3" y1="333.2" x2="1622.2" y2="333.2" stroke="#000" stroke-width="1.15" />
<line x1="1565.3" y1="334.8" x2="1622.2" y2="334.8" stroke="#000" stroke-width="1.15" />
<path d="M1565.3,1206 H1622.2 V1167 C1622.2,1153 1628,1148.8 1634,1143.8 H1553.4 C1559.4,1148.8 1565.3,1153 1565.3,1167 Z" fill="#fff" stroke="#000" stroke-width="1.35" stroke-linejoin="miter"/>
<line x1="1565.3" y1="1205.1" x2="1622.2" y2="1205.1" stroke="#000" stroke-width="1.35" />
<line x1="1565.3" y1="1203" x2="1622.2" y2="1203" stroke="#000" stroke-width="0.85" />
<line x1="1565.3" y1="1200.8" x2="1622.2" y2="1200.8" stroke="#000" stroke-width="0.85" />
<line x1="1565.3" y1="1198.7" x2="1622.2" y2="1198.7" stroke="#000" stroke-width="1.35" />
<line x1="1565.3" y1="1196.6" x2="1622.2" y2="1196.6" stroke="#000" stroke-width="0.85" />
<line x1="1565.3" y1="1194.5" x2="1622.2" y2="1194.5" stroke="#000" stroke-width="0.85" />
<line x1="1565.3" y1="1192.6" x2="1622.2" y2="1192.6" stroke="#000" stroke-width="1.15" />
<line x1="1565.3" y1="1191" x2="1622.2" y2="1191" stroke="#000" stroke-width="1.15" />
<line x1="1565.3" y1="1189.4" x2="1622.2" y2="1189.4" stroke="#000" stroke-width="1.15" />
<line x1="1565.3" y1="1187.8" x2="1622.2" y2="1187.8" stroke="#000" stroke-width="1.15" />
<path d="M1594.6,259.5 L1594.6,292.4 L1591.7,292.4 L1596.6,304.8 L1601.5,292.4 L1598.6,292.4 L1598.6,259.5 Z" fill="#fff" stroke="#000" stroke-width="1.15" stroke-linejoin="round"/>
<ellipse cx="1596.6" cy="292.4" rx="1.3" ry="4.9" fill="none" stroke="#000" stroke-width="0.92" transform="rotate(90 1596.6 292.4)"/>
<ellipse cx="1596.6" cy="260.1" rx="1.0" ry="2" fill="#fff" stroke="#000" stroke-width="0.92" transform="rotate(90 1596.6 260.1)"/>
<path d="M1603.61,260.83 L1606.3,261.11 L1608.92,261.49 L1611.45,261.97 L1613.86,262.55 L1616.14,263.21 L1618.25,263.97 L1620.2,264.8 L1621.95,265.71 L1623.49,266.68 L1624.81,267.71 L1625.9,268.78 L1626.75,269.9 L1627.36,271.04 L1627.71,272.2 L1627.8,273.36 L1627.63,274.53 L1627.21,275.69 L1626.54,276.82 L1625.62,277.92 L1624.46,278.99 L1623.08,280 L1621.47,280.95 L1619.67,281.84 L1617.67,282.65 L1615.51,283.38 L1613.2,284.03 L1610.75,284.58 L1608.19,285.03 L1605.55,285.38 L1602.83,285.63 L1600.08,285.77 L1597.31,285.8 L1594.54,285.72 L1591.8,285.54 L1589.12,285.24 L1586.51,284.85 L1583.99,284.35 L1581.6,283.76 L1579.35,283.08 L1577.26,282.31 L1575.34,281.47 L1573.62,280.55 L1572.11,279.57 L1570.82,278.54 L1569.76,277.46 L1568.94,276.34 L1568.38,275.2 L1568.07,274.04 L1568.01,272.87 L1568.21,271.7 L1568.67,270.55 L1569.38,269.42 L1570.33,268.32 L1571.52,267.27 L1572.94,266.26 L1574.58,265.32 L1576.41,264.44 L1578.43,263.64 L1580.61,262.92 L1582.95,262.29 L1584.45,264.98 L1582.35,265.42 L1580.38,265.92 L1578.57,266.48 L1576.92,267.09 L1575.45,267.75 L1574.17,268.46 L1573.1,269.19 L1572.24,269.96 L1571.6,270.75 L1571.19,271.55 L1571.01,272.37 L1571.06,273.18 L1571.34,273.99 L1571.85,274.79 L1572.58,275.57 L1573.53,276.33 L1574.69,277.05 L1576.05,277.74 L1577.6,278.38 L1579.33,278.97 L1581.21,279.5 L1583.24,279.98 L1585.39,280.39 L1587.65,280.74 L1590,281.01 L1592.41,281.22 L1594.88,281.34 L1597.37,281.4 L1599.86,281.38 L1602.34,281.28 L1604.78,281.11 L1607.16,280.86 L1609.46,280.55 L1611.66,280.16 L1613.74,279.71 L1615.69,279.2 L1617.48,278.63 L1619.11,278.01 L1620.55,277.35 L1621.8,276.64 L1622.84,275.9 L1623.67,275.13 L1624.27,274.34 L1624.65,273.53 L1624.8,272.72 L1624.71,271.9 L1624.4,271.09 L1623.86,270.29 L1623.09,269.52 L1622.11,268.77 L1620.92,268.05 L1619.53,267.37 L1617.96,266.74 L1616.21,266.15 L1614.31,265.63 L1612.26,265.16 L1610.09,264.76 L1607.82,264.42 L1605.46,264.15 L1603.03,263.96 Z" fill="none" stroke="#000" stroke-width="1.25" stroke-linejoin="round"/>
<path d="M1584.27,267.59 L1592,262.43 L1583.13,259.67 Z" fill="#fff" stroke="#000" stroke-width="1.25" stroke-linejoin="round"/>
<circle cx="1596.75" cy="210.4" r="22.9" fill="#fff" stroke="#000" stroke-width="1.5"/>
<text x="1596.75" y="224.06" font-size="33" text-anchor="middle"  stroke="#000" stroke-width="0.35" stroke-linejoin="round">6</text>
<path d="M1709.3,461.5 L1709.3,494 L1706.5,494 L1711.5,506.6 L1716.5,494 L1713.7,494 L1713.7,461.5 Z" fill="#fff" stroke="#000" stroke-width="1.15" stroke-linejoin="round"/>
<ellipse cx="1711.5" cy="494" rx="1.3" ry="5" fill="none" stroke="#000" stroke-width="0.92" transform="rotate(90 1711.5 494)"/>
<ellipse cx="1711.5" cy="462.1" rx="1.0" ry="2.2" fill="#fff" stroke="#000" stroke-width="0.92" transform="rotate(90 1711.5 462.1)"/>
<circle cx="1750.3" cy="484.2" r="22.9" fill="#fff" stroke="#000" stroke-width="1.5"/>
<text x="1750.3" y="494.21" font-size="33" text-anchor="middle"  stroke="#000" stroke-width="0.35" stroke-linejoin="round">5</text>
<path d="M1714.7,1045.5 L1714.7,1012 L1717.7,1012 L1712.5,1000 L1707.3,1012 L1710.3,1012 L1710.3,1045.5 Z" fill="#fff" stroke="#000" stroke-width="1.15" stroke-linejoin="round"/>
<ellipse cx="1712.5" cy="1012" rx="1.3" ry="5.2" fill="none" stroke="#000" stroke-width="0.92" transform="rotate(-90 1712.5 1012)"/>
<ellipse cx="1712.5" cy="1044.9" rx="1.0" ry="2.2" fill="#fff" stroke="#000" stroke-width="0.92" transform="rotate(-90 1712.5 1044.9)"/>
<circle cx="1750.4" cy="1028.3" r="22.9" fill="#fff" stroke="#000" stroke-width="1.5"/>
<text x="1750.4" y="1040.91" font-size="33" text-anchor="middle"  stroke="#000" stroke-width="0.35" stroke-linejoin="round">7</text>
<path d="M1654.46,1191.38 L1651.87,1191.09 L1649.35,1190.72 L1646.94,1190.26 L1644.65,1189.72 L1642.51,1189.11 L1640.52,1188.43 L1638.72,1187.68 L1637.11,1186.87 L1635.7,1186.02 L1634.51,1185.12 L1633.55,1184.18 L1632.83,1183.21 L1632.35,1182.23 L1632.12,1181.23 L1632.14,1180.23 L1632.41,1179.23 L1632.92,1178.25 L1633.67,1177.29 L1634.66,1176.35 L1635.88,1175.46 L1637.32,1174.61 L1638.96,1173.81 L1640.79,1173.07 L1642.8,1172.4 L1644.96,1171.8 L1647.27,1171.27 L1649.7,1170.83 L1652.22,1170.47 L1654.83,1170.19 L1657.49,1170.01 L1660.19,1169.91 L1662.9,1169.91 L1665.6,1170 L1668.27,1170.18 L1670.88,1170.45 L1673.41,1170.81 L1675.84,1171.25 L1678.15,1171.78 L1680.32,1172.38 L1682.34,1173.05 L1684.18,1173.78 L1685.82,1174.58 L1687.27,1175.43 L1688.49,1176.32 L1689.49,1177.25 L1690.26,1178.21 L1690.78,1179.2 L1691.05,1180.19 L1691.08,1181.19 L1690.86,1182.19 L1690.39,1183.18 L1689.68,1184.14 L1688.73,1185.08 L1687.55,1185.98 L1686.15,1186.84 L1684.55,1187.65 L1682.75,1188.4 L1680.77,1189.08 L1678.63,1189.7 L1676.35,1190.24 L1674.85,1186.35 L1676.9,1186 L1678.82,1185.6 L1680.6,1185.15 L1682.21,1184.66 L1683.66,1184.14 L1684.91,1183.58 L1685.97,1182.99 L1686.82,1182.38 L1687.46,1181.75 L1687.88,1181.11 L1688.08,1180.46 L1688.06,1179.8 L1687.81,1179.15 L1687.34,1178.51 L1686.66,1177.89 L1685.76,1177.28 L1684.66,1176.7 L1683.36,1176.15 L1681.88,1175.63 L1680.23,1175.15 L1678.42,1174.71 L1676.47,1174.32 L1674.39,1173.98 L1672.21,1173.69 L1669.94,1173.46 L1667.59,1173.28 L1665.2,1173.17 L1662.77,1173.11 L1660.34,1173.11 L1657.91,1173.17 L1655.52,1173.29 L1653.18,1173.47 L1650.91,1173.7 L1648.73,1173.99 L1646.65,1174.34 L1644.71,1174.73 L1642.91,1175.17 L1641.26,1175.65 L1639.79,1176.17 L1638.5,1176.72 L1637.4,1177.3 L1636.51,1177.91 L1635.84,1178.54 L1635.38,1179.18 L1635.14,1179.83 L1635.12,1180.48 L1635.33,1181.13 L1635.76,1181.77 L1636.41,1182.4 L1637.27,1183.01 L1638.33,1183.6 L1639.6,1184.16 L1641.04,1184.68 L1642.67,1185.17 L1644.45,1185.61 L1646.37,1186.01 L1648.43,1186.36 L1650.6,1186.66 L1652.86,1186.9 L1655.19,1187.09 Z" fill="none" stroke="#000" stroke-width="1.25" stroke-linejoin="round"/>
<path d="M1675.11,1184.32 L1667.42,1189.3 L1676.09,1192.26 Z" fill="#fff" stroke="#000" stroke-width="1.25" stroke-linejoin="round"/>
<path d="M1663.8,1194.2 L1663.8,1162.3 L1666.6,1162.3 L1662,1148.9 L1657.4,1162.3 L1660.2,1162.3 L1660.2,1194.2 Z" fill="#fff" stroke="#000" stroke-width="1.15" stroke-linejoin="round"/>
<ellipse cx="1662" cy="1162.3" rx="1.3" ry="4.6" fill="none" stroke="#000" stroke-width="0.92" transform="rotate(-90 1662 1162.3)"/>
<ellipse cx="1662" cy="1193.6" rx="1.0" ry="1.8" fill="#fff" stroke="#000" stroke-width="0.92" transform="rotate(-90 1662 1193.6)"/>
<circle cx="1728" cy="1182" r="22.9" fill="#fff" stroke="#000" stroke-width="1.5"/>
<text x="1728" y="1192.21" font-size="33" text-anchor="middle"  stroke="#000" stroke-width="0.35" stroke-linejoin="round">8</text>
</svg>
</body></html>
